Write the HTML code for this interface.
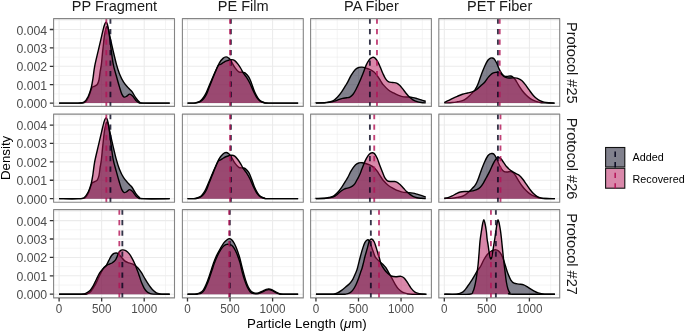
<!DOCTYPE html>
<html><head><meta charset="utf-8"><title>Density plot</title>
<style>html,body{margin:0;padding:0;background:#fff}svg{display:block}</style></head>
<body>
<svg width="685" height="333" viewBox="0 0 685 333" font-family="Liberation Sans, Arial, Helvetica, sans-serif">
<rect width="685" height="333" fill="#fff"/>
<g>
<rect x="53.6" y="18.6" width="120.90" height="87.80" fill="#fff"/>
<path d="M80.38,18.6V106.40M122.92,18.6V106.40M165.47,18.6V106.40M53.6,93.90H174.50M53.6,75.50H174.50M53.6,57.10H174.50M53.6,38.70H174.50M53.6,20.30H174.50" stroke="#ebebeb" stroke-width="0.55" fill="none"/>
<path d="M59.10,18.6V106.40M101.65,18.6V106.40M144.20,18.6V106.40M53.6,103.10H174.50M53.6,84.70H174.50M53.6,66.30H174.50M53.6,47.90H174.50M53.6,29.50H174.50" stroke="#ebebeb" stroke-width="1.05" fill="none"/>
<path d="M59.10,103.10C62.36,103.10 74.32,103.25 78.67,103.10C83.03,102.95 83.54,103.28 85.23,102.18C86.91,101.08 87.71,98.84 88.80,96.48C89.89,94.11 90.87,89.70 91.78,88.01C92.69,86.33 93.34,86.94 94.25,86.36C95.15,85.77 96.43,85.62 97.22,84.52C98.02,83.41 98.52,81.94 99.01,79.73C99.51,77.52 99.81,73.87 100.20,71.27C100.60,68.66 100.96,67.68 101.39,64.09C101.83,60.50 102.34,54.40 102.84,49.74C103.34,45.08 103.86,39.65 104.37,36.12C104.88,32.60 105.45,30.21 105.91,28.58C106.36,26.95 106.67,26.22 107.10,26.37C107.52,26.53 108.00,27.87 108.46,29.50C108.91,31.13 109.08,32.75 109.82,36.12C110.56,39.50 111.79,45.08 112.88,49.74C113.98,54.40 115.28,60.11 116.37,64.09C117.46,68.08 118.23,70.65 119.44,73.66C120.64,76.67 122.10,79.73 123.61,82.12C125.11,84.52 127.05,86.42 128.46,88.01C129.86,89.61 130.83,90.07 132.03,91.69C133.24,93.32 134.48,96.08 135.69,97.76C136.90,99.45 137.99,100.92 139.26,101.81C140.54,102.70 138.27,102.89 143.35,103.10C148.43,103.31 165.33,103.10 169.73,103.10L169.73,103.10L59.10,103.10Z" fill="#03031B" fill-opacity="0.5" stroke="none"/>
<path d="M59.10,103.10C62.36,103.10 74.32,103.25 78.67,103.10C83.03,102.95 83.54,103.28 85.23,102.18C86.91,101.08 87.71,98.84 88.80,96.48C89.89,94.11 90.87,89.70 91.78,88.01C92.69,86.33 93.34,86.94 94.25,86.36C95.15,85.77 96.43,85.62 97.22,84.52C98.02,83.41 98.52,81.94 99.01,79.73C99.51,77.52 99.81,73.87 100.20,71.27C100.60,68.66 100.96,67.68 101.39,64.09C101.83,60.50 102.34,54.40 102.84,49.74C103.34,45.08 103.86,39.65 104.37,36.12C104.88,32.60 105.45,30.21 105.91,28.58C106.36,26.95 106.67,26.22 107.10,26.37C107.52,26.53 108.00,27.87 108.46,29.50C108.91,31.13 109.08,32.75 109.82,36.12C110.56,39.50 111.79,45.08 112.88,49.74C113.98,54.40 115.28,60.11 116.37,64.09C117.46,68.08 118.23,70.65 119.44,73.66C120.64,76.67 122.10,79.73 123.61,82.12C125.11,84.52 127.05,86.42 128.46,88.01C129.86,89.61 130.83,90.07 132.03,91.69C133.24,93.32 134.48,96.08 135.69,97.76C136.90,99.45 137.99,100.92 139.26,101.81C140.54,102.70 138.27,102.89 143.35,103.10C148.43,103.31 165.33,103.10 169.73,103.10" fill="none" stroke="#000" stroke-width="1.4" stroke-linejoin="round"/>
<path d="M59.10,103.10C62.22,103.10 73.67,103.25 77.82,103.10C81.98,102.95 82.30,103.28 84.03,102.18C85.76,101.08 87.01,98.84 88.20,96.48C89.40,94.11 90.39,91.02 91.18,88.01C91.98,85.01 92.39,82.06 92.97,78.44C93.55,74.83 93.79,70.93 94.67,66.30C95.55,61.67 97.08,55.69 98.25,50.66C99.41,45.63 100.66,40.26 101.65,36.12C102.64,31.98 103.47,28.12 104.20,25.82C104.94,23.52 105.48,22.32 106.08,22.32C106.67,22.32 107.21,23.52 107.78,25.82C108.34,28.12 108.91,32.14 109.48,36.12C110.05,40.11 110.56,45.08 111.18,49.74C111.81,54.40 112.36,59.71 113.22,64.09C114.09,68.48 115.34,72.25 116.37,76.05C117.41,79.85 118.53,83.90 119.44,86.91C120.34,89.91 121.02,92.40 121.82,94.08C122.61,95.77 123.38,96.69 124.20,97.03C125.02,97.37 125.85,96.60 126.75,96.11C127.66,95.62 128.67,94.11 129.65,94.08C130.63,94.05 131.62,94.91 132.63,95.92C133.63,96.94 134.68,99.05 135.69,100.16C136.70,101.26 137.53,102.06 138.67,102.55C139.80,103.04 137.32,103.01 142.50,103.10C147.67,103.19 165.19,103.10 169.73,103.10L169.73,103.10L59.10,103.10Z" fill="#B31155" fill-opacity="0.5" stroke="none"/>
<path d="M59.10,103.10C62.22,103.10 73.67,103.25 77.82,103.10C81.98,102.95 82.30,103.28 84.03,102.18C85.76,101.08 87.01,98.84 88.20,96.48C89.40,94.11 90.39,91.02 91.18,88.01C91.98,85.01 92.39,82.06 92.97,78.44C93.55,74.83 93.79,70.93 94.67,66.30C95.55,61.67 97.08,55.69 98.25,50.66C99.41,45.63 100.66,40.26 101.65,36.12C102.64,31.98 103.47,28.12 104.20,25.82C104.94,23.52 105.48,22.32 106.08,22.32C106.67,22.32 107.21,23.52 107.78,25.82C108.34,28.12 108.91,32.14 109.48,36.12C110.05,40.11 110.56,45.08 111.18,49.74C111.81,54.40 112.36,59.71 113.22,64.09C114.09,68.48 115.34,72.25 116.37,76.05C117.41,79.85 118.53,83.90 119.44,86.91C120.34,89.91 121.02,92.40 121.82,94.08C122.61,95.77 123.38,96.69 124.20,97.03C125.02,97.37 125.85,96.60 126.75,96.11C127.66,95.62 128.67,94.11 129.65,94.08C130.63,94.05 131.62,94.91 132.63,95.92C133.63,96.94 134.68,99.05 135.69,100.16C136.70,101.26 137.53,102.06 138.67,102.55C139.80,103.04 137.32,103.01 142.50,103.10C147.67,103.19 165.19,103.10 169.73,103.10" fill="none" stroke="#000" stroke-width="1.4" stroke-linejoin="round"/>
<path d="M110.42,18.50V106.40" stroke="#03031B" stroke-width="1.85" stroke-opacity="0.8" stroke-dasharray="5.3 5.18" fill="none"/>
<path d="M106.33,18.50V106.40" stroke="#B31155" stroke-width="1.85" stroke-opacity="0.8" stroke-dasharray="5.3 5.18" fill="none"/>
<rect x="53.6" y="18.6" width="120.90" height="87.80" fill="none" stroke="#858585" stroke-width="1.1" stroke-linejoin="round"/>
</g>
<g>
<rect x="182.4" y="18.6" width="120.90" height="87.80" fill="#fff"/>
<path d="M208.78,18.6V106.40M251.32,18.6V106.40M293.88,18.6V106.40M182.4,93.90H303.30M182.4,75.50H303.30M182.4,57.10H303.30M182.4,38.70H303.30M182.4,20.30H303.30" stroke="#ebebeb" stroke-width="0.55" fill="none"/>
<path d="M187.50,18.6V106.40M230.05,18.6V106.40M272.60,18.6V106.40M182.4,103.10H303.30M182.4,84.70H303.30M182.4,66.30H303.30M182.4,47.90H303.30M182.4,29.50H303.30" stroke="#ebebeb" stroke-width="1.05" fill="none"/>
<path d="M187.50,103.10C188.35,103.10 191.33,103.13 192.61,103.10C193.88,103.07 194.04,103.16 195.16,102.92C196.28,102.67 198.14,102.27 199.33,101.63C200.52,100.98 201.30,100.25 202.31,99.05C203.31,97.86 204.34,96.41 205.37,94.45C206.41,92.49 207.50,89.64 208.52,87.28C209.54,84.91 210.41,82.83 211.50,80.28C212.59,77.74 213.75,74.92 215.07,72.00C216.39,69.09 218.09,65.07 219.41,62.80C220.73,60.53 221.88,59.37 222.99,58.39C224.09,57.41 225.11,56.98 226.05,56.92C226.99,56.85 227.84,57.47 228.60,58.02C229.37,58.57 229.62,58.66 230.65,60.23C231.67,61.79 233.37,65.47 234.73,67.40C236.09,69.34 237.45,70.99 238.82,71.82C240.18,72.65 241.82,72.16 242.90,72.37C243.98,72.59 244.29,72.31 245.28,73.11C246.28,73.91 247.82,75.47 248.86,77.16C249.89,78.84 250.56,80.84 251.50,83.23C252.43,85.62 253.45,89.12 254.47,91.51C255.49,93.90 256.59,95.99 257.62,97.58C258.66,99.17 259.51,100.22 260.69,101.08C261.86,101.93 263.34,102.39 264.69,102.73C266.03,103.07 263.20,103.04 268.77,103.10C274.34,103.16 293.24,103.10 298.13,103.10L298.13,103.10L187.50,103.10Z" fill="#03031B" fill-opacity="0.5" stroke="none"/>
<path d="M187.50,103.10C188.35,103.10 191.33,103.13 192.61,103.10C193.88,103.07 194.04,103.16 195.16,102.92C196.28,102.67 198.14,102.27 199.33,101.63C200.52,100.98 201.30,100.25 202.31,99.05C203.31,97.86 204.34,96.41 205.37,94.45C206.41,92.49 207.50,89.64 208.52,87.28C209.54,84.91 210.41,82.83 211.50,80.28C212.59,77.74 213.75,74.92 215.07,72.00C216.39,69.09 218.09,65.07 219.41,62.80C220.73,60.53 221.88,59.37 222.99,58.39C224.09,57.41 225.11,56.98 226.05,56.92C226.99,56.85 227.84,57.47 228.60,58.02C229.37,58.57 229.62,58.66 230.65,60.23C231.67,61.79 233.37,65.47 234.73,67.40C236.09,69.34 237.45,70.99 238.82,71.82C240.18,72.65 241.82,72.16 242.90,72.37C243.98,72.59 244.29,72.31 245.28,73.11C246.28,73.91 247.82,75.47 248.86,77.16C249.89,78.84 250.56,80.84 251.50,83.23C252.43,85.62 253.45,89.12 254.47,91.51C255.49,93.90 256.59,95.99 257.62,97.58C258.66,99.17 259.51,100.22 260.69,101.08C261.86,101.93 263.34,102.39 264.69,102.73C266.03,103.07 263.20,103.04 268.77,103.10C274.34,103.16 293.24,103.10 298.13,103.10" fill="none" stroke="#000" stroke-width="1.4" stroke-linejoin="round"/>
<path d="M187.50,103.10C188.56,103.10 192.39,103.13 193.88,103.10C195.37,103.07 195.37,103.16 196.44,102.92C197.50,102.67 199.10,102.27 200.26,101.63C201.43,100.98 202.39,100.25 203.41,99.05C204.43,97.86 205.43,96.41 206.39,94.45C207.36,92.49 208.26,89.64 209.20,87.28C210.14,84.91 210.99,82.83 212.01,80.28C213.03,77.74 214.26,74.49 215.33,72.00C216.39,69.52 217.54,66.64 218.39,65.38C219.24,64.12 219.58,64.95 220.43,64.46C221.28,63.97 222.48,63.02 223.50,62.44C224.52,61.85 225.20,61.42 226.56,60.96C227.92,60.50 230.31,59.74 231.67,59.68C233.03,59.61 233.71,59.89 234.73,60.60C235.75,61.30 236.77,62.59 237.79,63.91C238.82,65.23 239.94,66.97 240.86,68.51C241.78,70.04 242.40,71.67 243.33,73.11C244.25,74.55 245.30,75.47 246.39,77.16C247.48,78.84 248.69,80.84 249.88,83.23C251.07,85.62 252.39,89.12 253.54,91.51C254.69,93.90 255.67,95.99 256.77,97.58C257.88,99.17 258.94,100.22 260.18,101.08C261.41,101.93 262.81,102.39 264.18,102.73C265.54,103.07 262.69,103.04 268.35,103.10C274.00,103.16 293.17,103.10 298.13,103.10L298.13,103.10L187.50,103.10Z" fill="#B31155" fill-opacity="0.5" stroke="none"/>
<path d="M187.50,103.10C188.56,103.10 192.39,103.13 193.88,103.10C195.37,103.07 195.37,103.16 196.44,102.92C197.50,102.67 199.10,102.27 200.26,101.63C201.43,100.98 202.39,100.25 203.41,99.05C204.43,97.86 205.43,96.41 206.39,94.45C207.36,92.49 208.26,89.64 209.20,87.28C210.14,84.91 210.99,82.83 212.01,80.28C213.03,77.74 214.26,74.49 215.33,72.00C216.39,69.52 217.54,66.64 218.39,65.38C219.24,64.12 219.58,64.95 220.43,64.46C221.28,63.97 222.48,63.02 223.50,62.44C224.52,61.85 225.20,61.42 226.56,60.96C227.92,60.50 230.31,59.74 231.67,59.68C233.03,59.61 233.71,59.89 234.73,60.60C235.75,61.30 236.77,62.59 237.79,63.91C238.82,65.23 239.94,66.97 240.86,68.51C241.78,70.04 242.40,71.67 243.33,73.11C244.25,74.55 245.30,75.47 246.39,77.16C247.48,78.84 248.69,80.84 249.88,83.23C251.07,85.62 252.39,89.12 253.54,91.51C254.69,93.90 255.67,95.99 256.77,97.58C257.88,99.17 258.94,100.22 260.18,101.08C261.41,101.93 262.81,102.39 264.18,102.73C265.54,103.07 262.69,103.04 268.35,103.10C274.00,103.16 293.17,103.10 298.13,103.10" fill="none" stroke="#000" stroke-width="1.4" stroke-linejoin="round"/>
<path d="M230.90,18.50V106.40" stroke="#03031B" stroke-width="1.85" stroke-opacity="0.8" stroke-dasharray="5.3 5.18" fill="none"/>
<path d="M230.05,18.50V106.40" stroke="#B31155" stroke-width="1.85" stroke-opacity="0.8" stroke-dasharray="5.3 5.18" fill="none"/>
<rect x="182.4" y="18.6" width="120.90" height="87.80" fill="none" stroke="#858585" stroke-width="1.1" stroke-linejoin="round"/>
</g>
<g>
<rect x="310.6" y="18.6" width="120.80" height="87.80" fill="#fff"/>
<path d="M337.22,18.6V106.40M379.77,18.6V106.40M422.32,18.6V106.40M310.6,93.90H431.40M310.6,75.50H431.40M310.6,57.10H431.40M310.6,38.70H431.40M310.6,20.30H431.40" stroke="#ebebeb" stroke-width="0.55" fill="none"/>
<path d="M315.95,18.6V106.40M358.50,18.6V106.40M401.05,18.6V106.40M310.6,103.10H431.40M310.6,84.70H431.40M310.6,66.30H431.40M310.6,47.90H431.40M310.6,29.50H431.40" stroke="#ebebeb" stroke-width="1.05" fill="none"/>
<path d="M315.95,103.10C315.98,103.07 314.73,102.98 316.12,102.92C317.51,102.85 322.08,102.92 324.29,102.73C326.50,102.55 327.86,102.18 329.40,101.81C330.93,101.44 332.12,101.32 333.48,100.52C334.84,99.73 336.20,98.47 337.57,97.03C338.93,95.59 340.29,93.82 341.65,91.88C343.01,89.93 344.73,86.97 345.74,85.34C346.74,83.72 346.77,83.83 347.69,82.12C348.61,80.42 349.99,77.25 351.27,75.13C352.54,73.02 354.07,70.72 355.35,69.43C356.63,68.14 357.82,67.79 358.93,67.40C360.03,67.02 360.88,67.04 361.99,67.13C363.10,67.22 364.29,67.57 365.56,67.96C366.84,68.34 368.29,68.78 369.65,69.43C371.01,70.07 372.54,70.87 373.73,71.82C374.92,72.77 375.78,73.81 376.80,75.13C377.82,76.45 379.09,78.57 379.86,79.73C380.63,80.90 380.81,81.27 381.39,82.12C381.97,82.98 382.17,83.58 383.35,84.88C384.53,86.19 386.75,88.59 388.46,89.94C390.16,91.29 391.86,92.08 393.56,92.98C395.26,93.88 396.97,94.73 398.67,95.37C400.37,96.02 402.07,96.57 403.77,96.84C405.48,97.12 407.35,96.91 408.88,97.03C410.41,97.15 411.60,97.32 412.96,97.58C414.33,97.84 415.69,98.22 417.05,98.59C418.41,98.96 419.69,99.31 421.13,99.79C422.58,100.26 424.96,101.17 425.73,101.44L425.73,103.10L315.95,103.10Z" fill="#03031B" fill-opacity="0.5" stroke="none"/>
<path d="M315.95,103.10C315.98,103.07 314.73,102.98 316.12,102.92C317.51,102.85 322.08,102.92 324.29,102.73C326.50,102.55 327.86,102.18 329.40,101.81C330.93,101.44 332.12,101.32 333.48,100.52C334.84,99.73 336.20,98.47 337.57,97.03C338.93,95.59 340.29,93.82 341.65,91.88C343.01,89.93 344.73,86.97 345.74,85.34C346.74,83.72 346.77,83.83 347.69,82.12C348.61,80.42 349.99,77.25 351.27,75.13C352.54,73.02 354.07,70.72 355.35,69.43C356.63,68.14 357.82,67.79 358.93,67.40C360.03,67.02 360.88,67.04 361.99,67.13C363.10,67.22 364.29,67.57 365.56,67.96C366.84,68.34 368.29,68.78 369.65,69.43C371.01,70.07 372.54,70.87 373.73,71.82C374.92,72.77 375.78,73.81 376.80,75.13C377.82,76.45 379.09,78.57 379.86,79.73C380.63,80.90 380.81,81.27 381.39,82.12C381.97,82.98 382.17,83.58 383.35,84.88C384.53,86.19 386.75,88.59 388.46,89.94C390.16,91.29 391.86,92.08 393.56,92.98C395.26,93.88 396.97,94.73 398.67,95.37C400.37,96.02 402.07,96.57 403.77,96.84C405.48,97.12 407.35,96.91 408.88,97.03C410.41,97.15 411.60,97.32 412.96,97.58C414.33,97.84 415.69,98.22 417.05,98.59C418.41,98.96 419.69,99.31 421.13,99.79C422.58,100.26 424.96,101.17 425.73,101.44" fill="none" stroke="#000" stroke-width="1.4" stroke-linejoin="round"/>
<path d="M315.95,103.10C317.37,103.07 322.22,103.04 324.46,102.92C326.70,102.79 327.72,102.66 329.40,102.36C331.07,102.07 332.97,101.63 334.50,101.17C336.03,100.71 337.22,100.07 338.59,99.60C339.95,99.14 341.31,98.70 342.67,98.39C344.03,98.08 345.56,97.99 346.76,97.76C347.95,97.54 348.80,97.56 349.82,97.03C350.84,96.49 351.86,95.80 352.88,94.54C353.90,93.29 354.87,91.52 355.95,89.48C357.02,87.44 358.17,84.98 359.35,82.31C360.53,79.64 361.89,76.30 363.01,73.48C364.13,70.65 365.05,67.65 366.07,65.38C367.10,63.11 368.20,61.13 369.14,59.86C370.07,58.59 371.01,58.17 371.69,57.74C372.37,57.31 372.63,57.21 373.22,57.28C373.82,57.36 374.50,57.44 375.26,58.20C376.03,58.97 376.97,60.35 377.82,61.88C378.67,63.42 379.52,65.47 380.37,67.40C381.22,69.34 382.07,71.61 382.92,73.48C383.77,75.35 384.58,77.28 385.48,78.63C386.37,79.98 387.11,80.93 388.28,81.57C389.46,82.22 391.15,82.25 392.54,82.49C393.93,82.74 395.43,82.57 396.62,83.04C397.82,83.52 398.67,84.36 399.69,85.34C400.71,86.33 401.73,87.66 402.75,88.93C403.77,90.20 404.71,91.63 405.82,92.98C406.92,94.33 408.20,95.89 409.39,97.03C410.58,98.16 411.69,99.02 412.96,99.79C414.24,100.55 415.69,101.17 417.05,101.63C418.41,102.09 419.69,102.33 421.13,102.55C422.58,102.76 424.96,102.85 425.73,102.92L425.73,103.10L315.95,103.10Z" fill="#B31155" fill-opacity="0.5" stroke="none"/>
<path d="M315.95,103.10C317.37,103.07 322.22,103.04 324.46,102.92C326.70,102.79 327.72,102.66 329.40,102.36C331.07,102.07 332.97,101.63 334.50,101.17C336.03,100.71 337.22,100.07 338.59,99.60C339.95,99.14 341.31,98.70 342.67,98.39C344.03,98.08 345.56,97.99 346.76,97.76C347.95,97.54 348.80,97.56 349.82,97.03C350.84,96.49 351.86,95.80 352.88,94.54C353.90,93.29 354.87,91.52 355.95,89.48C357.02,87.44 358.17,84.98 359.35,82.31C360.53,79.64 361.89,76.30 363.01,73.48C364.13,70.65 365.05,67.65 366.07,65.38C367.10,63.11 368.20,61.13 369.14,59.86C370.07,58.59 371.01,58.17 371.69,57.74C372.37,57.31 372.63,57.21 373.22,57.28C373.82,57.36 374.50,57.44 375.26,58.20C376.03,58.97 376.97,60.35 377.82,61.88C378.67,63.42 379.52,65.47 380.37,67.40C381.22,69.34 382.07,71.61 382.92,73.48C383.77,75.35 384.58,77.28 385.48,78.63C386.37,79.98 387.11,80.93 388.28,81.57C389.46,82.22 391.15,82.25 392.54,82.49C393.93,82.74 395.43,82.57 396.62,83.04C397.82,83.52 398.67,84.36 399.69,85.34C400.71,86.33 401.73,87.66 402.75,88.93C403.77,90.20 404.71,91.63 405.82,92.98C406.92,94.33 408.20,95.89 409.39,97.03C410.58,98.16 411.69,99.02 412.96,99.79C414.24,100.55 415.69,101.17 417.05,101.63C418.41,102.09 419.69,102.33 421.13,102.55C422.58,102.76 424.96,102.85 425.73,102.92" fill="none" stroke="#000" stroke-width="1.4" stroke-linejoin="round"/>
<path d="M369.90,18.50V106.40" stroke="#03031B" stroke-width="1.85" stroke-opacity="0.8" stroke-dasharray="5.3 5.18" fill="none"/>
<path d="M376.97,18.50V106.40" stroke="#B31155" stroke-width="1.85" stroke-opacity="0.8" stroke-dasharray="5.3 5.18" fill="none"/>
<rect x="310.6" y="18.6" width="120.80" height="87.80" fill="none" stroke="#858585" stroke-width="1.1" stroke-linejoin="round"/>
</g>
<g>
<rect x="438.8" y="18.6" width="120.90" height="87.80" fill="#fff"/>
<path d="M465.57,18.6V106.40M508.12,18.6V106.40M550.67,18.6V106.40M438.8,93.90H559.70M438.8,75.50H559.70M438.8,57.10H559.70M438.8,38.70H559.70M438.8,20.30H559.70" stroke="#ebebeb" stroke-width="0.55" fill="none"/>
<path d="M444.30,18.6V106.40M486.85,18.6V106.40M529.40,18.6V106.40M438.8,103.10H559.70M438.8,84.70H559.70M438.8,66.30H559.70M438.8,47.90H559.70M438.8,29.50H559.70" stroke="#ebebeb" stroke-width="1.05" fill="none"/>
<path d="M444.30,102.92C445.62,102.85 450.04,102.73 452.21,102.55C454.38,102.36 455.62,102.12 457.32,101.81C459.02,101.51 460.89,101.28 462.43,100.71C463.96,100.14 465.32,99.22 466.51,98.39C467.70,97.56 468.55,96.73 469.57,95.74C470.60,94.75 471.79,93.32 472.64,92.43C473.49,91.54 474.00,91.32 474.68,90.40C475.36,89.48 476.04,88.32 476.72,86.91C477.40,85.50 477.93,84.18 478.77,81.94C479.60,79.70 480.74,76.14 481.74,73.48C482.75,70.81 483.79,68.14 484.81,65.93C485.83,63.72 486.94,61.52 487.87,60.23C488.81,58.94 489.74,58.59 490.42,58.20C491.11,57.82 491.36,57.84 491.96,57.93C492.55,58.02 493.23,57.94 494.00,58.76C494.76,59.57 495.70,61.12 496.55,62.80C497.40,64.49 498.25,67.10 499.10,68.88C499.96,70.65 500.81,72.28 501.66,73.48C502.51,74.67 503.27,75.56 504.21,76.05C505.15,76.54 506.25,76.44 507.27,76.42C508.30,76.40 509.40,75.87 510.34,75.96C511.27,76.05 512.05,76.34 512.89,76.97C513.73,77.60 514.44,78.41 515.36,79.73C516.28,81.05 517.23,83.01 518.42,84.88C519.61,86.75 521.15,89.18 522.51,90.96C523.87,92.73 525.23,94.24 526.59,95.56C527.95,96.87 529.31,97.98 530.68,98.87C532.04,99.76 533.40,100.34 534.76,100.89C536.12,101.44 537.31,101.84 538.85,102.18C540.38,102.52 541.27,102.76 543.95,102.92C546.63,103.07 553.10,103.07 554.93,103.10L554.93,103.10L444.30,103.10Z" fill="#03031B" fill-opacity="0.5" stroke="none"/>
<path d="M444.30,102.92C445.62,102.85 450.04,102.73 452.21,102.55C454.38,102.36 455.62,102.12 457.32,101.81C459.02,101.51 460.89,101.28 462.43,100.71C463.96,100.14 465.32,99.22 466.51,98.39C467.70,97.56 468.55,96.73 469.57,95.74C470.60,94.75 471.79,93.32 472.64,92.43C473.49,91.54 474.00,91.32 474.68,90.40C475.36,89.48 476.04,88.32 476.72,86.91C477.40,85.50 477.93,84.18 478.77,81.94C479.60,79.70 480.74,76.14 481.74,73.48C482.75,70.81 483.79,68.14 484.81,65.93C485.83,63.72 486.94,61.52 487.87,60.23C488.81,58.94 489.74,58.59 490.42,58.20C491.11,57.82 491.36,57.84 491.96,57.93C492.55,58.02 493.23,57.94 494.00,58.76C494.76,59.57 495.70,61.12 496.55,62.80C497.40,64.49 498.25,67.10 499.10,68.88C499.96,70.65 500.81,72.28 501.66,73.48C502.51,74.67 503.27,75.56 504.21,76.05C505.15,76.54 506.25,76.44 507.27,76.42C508.30,76.40 509.40,75.87 510.34,75.96C511.27,76.05 512.05,76.34 512.89,76.97C513.73,77.60 514.44,78.41 515.36,79.73C516.28,81.05 517.23,83.01 518.42,84.88C519.61,86.75 521.15,89.18 522.51,90.96C523.87,92.73 525.23,94.24 526.59,95.56C527.95,96.87 529.31,97.98 530.68,98.87C532.04,99.76 533.40,100.34 534.76,100.89C536.12,101.44 537.31,101.84 538.85,102.18C540.38,102.52 541.27,102.76 543.95,102.92C546.63,103.07 553.10,103.07 554.93,103.10" fill="none" stroke="#000" stroke-width="1.4" stroke-linejoin="round"/>
<path d="M444.30,102.55C444.94,102.24 446.81,101.37 448.13,100.71C449.45,100.05 450.68,99.33 452.21,98.59C453.75,97.86 455.62,97.01 457.32,96.29C459.02,95.57 460.72,94.82 462.43,94.27C464.13,93.72 465.83,93.41 467.53,92.98C469.23,92.55 471.11,92.27 472.64,91.69C474.17,91.11 475.36,90.47 476.72,89.48C478.08,88.50 479.45,87.06 480.81,85.80C482.17,84.55 483.63,83.38 484.89,81.94C486.16,80.50 487.20,78.54 488.38,77.16C489.56,75.78 490.76,74.46 491.96,73.66C493.15,72.86 494.51,72.59 495.53,72.37C496.55,72.16 497.15,72.10 498.08,72.37C499.02,72.65 500.13,73.32 501.15,74.03C502.17,74.73 503.19,75.96 504.21,76.60C505.23,77.25 506.17,77.66 507.27,77.89C508.38,78.12 509.57,77.98 510.85,77.98C512.12,77.98 513.67,77.78 514.93,77.89C516.20,78.00 517.24,78.15 518.42,78.63C519.60,79.10 520.80,79.70 522.00,80.74C523.19,81.79 524.38,83.35 525.57,84.88C526.76,86.42 527.95,88.30 529.14,89.94C530.34,91.58 531.53,93.33 532.72,94.73C533.91,96.12 535.10,97.32 536.29,98.32C537.48,99.31 538.59,100.06 539.87,100.71C541.14,101.35 542.42,101.83 543.95,102.18C545.48,102.53 547.37,102.67 549.06,102.82C550.75,102.98 553.24,103.05 554.08,103.10L554.08,103.10L444.30,103.10Z" fill="#B31155" fill-opacity="0.5" stroke="none"/>
<path d="M444.30,102.55C444.94,102.24 446.81,101.37 448.13,100.71C449.45,100.05 450.68,99.33 452.21,98.59C453.75,97.86 455.62,97.01 457.32,96.29C459.02,95.57 460.72,94.82 462.43,94.27C464.13,93.72 465.83,93.41 467.53,92.98C469.23,92.55 471.11,92.27 472.64,91.69C474.17,91.11 475.36,90.47 476.72,89.48C478.08,88.50 479.45,87.06 480.81,85.80C482.17,84.55 483.63,83.38 484.89,81.94C486.16,80.50 487.20,78.54 488.38,77.16C489.56,75.78 490.76,74.46 491.96,73.66C493.15,72.86 494.51,72.59 495.53,72.37C496.55,72.16 497.15,72.10 498.08,72.37C499.02,72.65 500.13,73.32 501.15,74.03C502.17,74.73 503.19,75.96 504.21,76.60C505.23,77.25 506.17,77.66 507.27,77.89C508.38,78.12 509.57,77.98 510.85,77.98C512.12,77.98 513.67,77.78 514.93,77.89C516.20,78.00 517.24,78.15 518.42,78.63C519.60,79.10 520.80,79.70 522.00,80.74C523.19,81.79 524.38,83.35 525.57,84.88C526.76,86.42 527.95,88.30 529.14,89.94C530.34,91.58 531.53,93.33 532.72,94.73C533.91,96.12 535.10,97.32 536.29,98.32C537.48,99.31 538.59,100.06 539.87,100.71C541.14,101.35 542.42,101.83 543.95,102.18C545.48,102.53 547.37,102.67 549.06,102.82C550.75,102.98 553.24,103.05 554.08,103.10" fill="none" stroke="#000" stroke-width="1.4" stroke-linejoin="round"/>
<path d="M497.91,18.50V106.40" stroke="#03031B" stroke-width="1.85" stroke-opacity="0.8" stroke-dasharray="5.3 5.18" fill="none"/>
<path d="M499.70,18.50V106.40" stroke="#B31155" stroke-width="1.85" stroke-opacity="0.8" stroke-dasharray="5.3 5.18" fill="none"/>
<rect x="438.8" y="18.6" width="120.90" height="87.80" fill="none" stroke="#858585" stroke-width="1.1" stroke-linejoin="round"/>
</g>
<g>
<rect x="53.6" y="114.1" width="120.90" height="88.20" fill="#fff"/>
<path d="M80.38,114.1V202.30M122.92,114.1V202.30M165.47,114.1V202.30M53.6,189.45H174.50M53.6,171.05H174.50M53.6,152.65H174.50M53.6,134.25H174.50M53.6,115.85H174.50" stroke="#ebebeb" stroke-width="0.55" fill="none"/>
<path d="M59.10,114.1V202.30M101.65,114.1V202.30M144.20,114.1V202.30M53.6,198.65H174.50M53.6,180.25H174.50M53.6,161.85H174.50M53.6,143.45H174.50M53.6,125.05H174.50" stroke="#ebebeb" stroke-width="1.05" fill="none"/>
<path d="M59.10,198.65C62.36,198.65 74.32,198.80 78.67,198.65C83.03,198.50 83.54,198.83 85.23,197.73C86.91,196.63 87.71,194.39 88.80,192.03C89.89,189.66 90.87,185.25 91.78,183.56C92.69,181.88 93.34,182.49 94.25,181.91C95.15,181.32 96.43,181.17 97.22,180.07C98.02,178.96 98.52,177.49 99.01,175.28C99.51,173.07 99.81,169.42 100.20,166.82C100.60,164.21 100.96,163.23 101.39,159.64C101.83,156.05 102.34,149.95 102.84,145.29C103.34,140.63 103.86,135.20 104.37,131.67C104.88,128.15 105.45,125.76 105.91,124.13C106.36,122.50 106.67,121.77 107.10,121.92C107.52,122.08 108.00,123.42 108.46,125.05C108.91,126.68 109.08,128.30 109.82,131.67C110.56,135.05 111.79,140.63 112.88,145.29C113.98,149.95 115.28,155.66 116.37,159.64C117.46,163.63 118.23,166.20 119.44,169.21C120.64,172.22 122.10,175.28 123.61,177.67C125.11,180.07 127.05,181.97 128.46,183.56C129.86,185.16 130.83,185.62 132.03,187.24C133.24,188.87 134.48,191.63 135.69,193.31C136.90,195.00 137.99,196.47 139.26,197.36C140.54,198.25 138.27,198.44 143.35,198.65C148.43,198.86 165.33,198.65 169.73,198.65L169.73,198.65L59.10,198.65Z" fill="#03031B" fill-opacity="0.5" stroke="none"/>
<path d="M59.10,198.65C62.36,198.65 74.32,198.80 78.67,198.65C83.03,198.50 83.54,198.83 85.23,197.73C86.91,196.63 87.71,194.39 88.80,192.03C89.89,189.66 90.87,185.25 91.78,183.56C92.69,181.88 93.34,182.49 94.25,181.91C95.15,181.32 96.43,181.17 97.22,180.07C98.02,178.96 98.52,177.49 99.01,175.28C99.51,173.07 99.81,169.42 100.20,166.82C100.60,164.21 100.96,163.23 101.39,159.64C101.83,156.05 102.34,149.95 102.84,145.29C103.34,140.63 103.86,135.20 104.37,131.67C104.88,128.15 105.45,125.76 105.91,124.13C106.36,122.50 106.67,121.77 107.10,121.92C107.52,122.08 108.00,123.42 108.46,125.05C108.91,126.68 109.08,128.30 109.82,131.67C110.56,135.05 111.79,140.63 112.88,145.29C113.98,149.95 115.28,155.66 116.37,159.64C117.46,163.63 118.23,166.20 119.44,169.21C120.64,172.22 122.10,175.28 123.61,177.67C125.11,180.07 127.05,181.97 128.46,183.56C129.86,185.16 130.83,185.62 132.03,187.24C133.24,188.87 134.48,191.63 135.69,193.31C136.90,195.00 137.99,196.47 139.26,197.36C140.54,198.25 138.27,198.44 143.35,198.65C148.43,198.86 165.33,198.65 169.73,198.65" fill="none" stroke="#000" stroke-width="1.4" stroke-linejoin="round"/>
<path d="M59.10,198.65C62.22,198.65 73.67,198.80 77.82,198.65C81.98,198.50 82.30,198.83 84.03,197.73C85.76,196.63 87.01,194.39 88.20,192.03C89.40,189.66 90.39,186.57 91.18,183.56C91.98,180.56 92.39,177.61 92.97,173.99C93.55,170.38 93.79,166.48 94.67,161.85C95.55,157.22 97.08,151.24 98.25,146.21C99.41,141.18 100.66,135.81 101.65,131.67C102.64,127.53 103.47,123.67 104.20,121.37C104.94,119.07 105.48,117.87 106.08,117.87C106.67,117.87 107.21,119.07 107.78,121.37C108.34,123.67 108.91,127.69 109.48,131.67C110.05,135.66 110.56,140.63 111.18,145.29C111.81,149.95 112.36,155.26 113.22,159.64C114.09,164.03 115.34,167.80 116.37,171.60C117.41,175.40 118.53,179.45 119.44,182.46C120.34,185.46 121.02,187.95 121.82,189.63C122.61,191.32 123.38,192.24 124.20,192.58C125.02,192.92 125.85,192.15 126.75,191.66C127.66,191.17 128.67,189.66 129.65,189.63C130.63,189.60 131.62,190.46 132.63,191.47C133.63,192.49 134.68,194.60 135.69,195.71C136.70,196.81 137.53,197.61 138.67,198.10C139.80,198.59 137.32,198.56 142.50,198.65C147.67,198.74 165.19,198.65 169.73,198.65L169.73,198.65L59.10,198.65Z" fill="#B31155" fill-opacity="0.5" stroke="none"/>
<path d="M59.10,198.65C62.22,198.65 73.67,198.80 77.82,198.65C81.98,198.50 82.30,198.83 84.03,197.73C85.76,196.63 87.01,194.39 88.20,192.03C89.40,189.66 90.39,186.57 91.18,183.56C91.98,180.56 92.39,177.61 92.97,173.99C93.55,170.38 93.79,166.48 94.67,161.85C95.55,157.22 97.08,151.24 98.25,146.21C99.41,141.18 100.66,135.81 101.65,131.67C102.64,127.53 103.47,123.67 104.20,121.37C104.94,119.07 105.48,117.87 106.08,117.87C106.67,117.87 107.21,119.07 107.78,121.37C108.34,123.67 108.91,127.69 109.48,131.67C110.05,135.66 110.56,140.63 111.18,145.29C111.81,149.95 112.36,155.26 113.22,159.64C114.09,164.03 115.34,167.80 116.37,171.60C117.41,175.40 118.53,179.45 119.44,182.46C120.34,185.46 121.02,187.95 121.82,189.63C122.61,191.32 123.38,192.24 124.20,192.58C125.02,192.92 125.85,192.15 126.75,191.66C127.66,191.17 128.67,189.66 129.65,189.63C130.63,189.60 131.62,190.46 132.63,191.47C133.63,192.49 134.68,194.60 135.69,195.71C136.70,196.81 137.53,197.61 138.67,198.10C139.80,198.59 137.32,198.56 142.50,198.65C147.67,198.74 165.19,198.65 169.73,198.65" fill="none" stroke="#000" stroke-width="1.4" stroke-linejoin="round"/>
<path d="M110.42,114.00V202.30" stroke="#03031B" stroke-width="1.85" stroke-opacity="0.8" stroke-dasharray="5.3 5.18" fill="none"/>
<path d="M106.33,114.00V202.30" stroke="#B31155" stroke-width="1.85" stroke-opacity="0.8" stroke-dasharray="5.3 5.18" fill="none"/>
<rect x="53.6" y="114.1" width="120.90" height="88.20" fill="none" stroke="#858585" stroke-width="1.1" stroke-linejoin="round"/>
</g>
<g>
<rect x="182.4" y="114.1" width="120.90" height="88.20" fill="#fff"/>
<path d="M208.78,114.1V202.30M251.32,114.1V202.30M293.88,114.1V202.30M182.4,189.45H303.30M182.4,171.05H303.30M182.4,152.65H303.30M182.4,134.25H303.30M182.4,115.85H303.30" stroke="#ebebeb" stroke-width="0.55" fill="none"/>
<path d="M187.50,114.1V202.30M230.05,114.1V202.30M272.60,114.1V202.30M182.4,198.65H303.30M182.4,180.25H303.30M182.4,161.85H303.30M182.4,143.45H303.30M182.4,125.05H303.30" stroke="#ebebeb" stroke-width="1.05" fill="none"/>
<path d="M187.50,198.65C188.35,198.65 191.33,198.68 192.61,198.65C193.88,198.62 194.04,198.71 195.16,198.47C196.28,198.22 198.14,197.82 199.33,197.18C200.52,196.53 201.30,195.80 202.31,194.60C203.31,193.41 204.34,191.96 205.37,190.00C206.41,188.04 207.50,185.19 208.52,182.83C209.54,180.46 210.41,178.38 211.50,175.83C212.59,173.29 213.75,170.47 215.07,167.55C216.39,164.64 218.09,160.62 219.41,158.35C220.73,156.08 221.88,154.92 222.99,153.94C224.09,152.96 225.11,152.53 226.05,152.47C226.99,152.40 227.84,153.02 228.60,153.57C229.37,154.12 229.62,154.21 230.65,155.78C231.67,157.34 233.37,161.02 234.73,162.95C236.09,164.89 237.45,166.54 238.82,167.37C240.18,168.20 241.82,167.71 242.90,167.92C243.98,168.14 244.29,167.86 245.28,168.66C246.28,169.46 247.82,171.02 248.86,172.71C249.89,174.39 250.56,176.39 251.50,178.78C252.43,181.17 253.45,184.67 254.47,187.06C255.49,189.45 256.59,191.54 257.62,193.13C258.66,194.72 259.51,195.77 260.69,196.63C261.86,197.48 263.34,197.94 264.69,198.28C266.03,198.62 263.20,198.59 268.77,198.65C274.34,198.71 293.24,198.65 298.13,198.65L298.13,198.65L187.50,198.65Z" fill="#03031B" fill-opacity="0.5" stroke="none"/>
<path d="M187.50,198.65C188.35,198.65 191.33,198.68 192.61,198.65C193.88,198.62 194.04,198.71 195.16,198.47C196.28,198.22 198.14,197.82 199.33,197.18C200.52,196.53 201.30,195.80 202.31,194.60C203.31,193.41 204.34,191.96 205.37,190.00C206.41,188.04 207.50,185.19 208.52,182.83C209.54,180.46 210.41,178.38 211.50,175.83C212.59,173.29 213.75,170.47 215.07,167.55C216.39,164.64 218.09,160.62 219.41,158.35C220.73,156.08 221.88,154.92 222.99,153.94C224.09,152.96 225.11,152.53 226.05,152.47C226.99,152.40 227.84,153.02 228.60,153.57C229.37,154.12 229.62,154.21 230.65,155.78C231.67,157.34 233.37,161.02 234.73,162.95C236.09,164.89 237.45,166.54 238.82,167.37C240.18,168.20 241.82,167.71 242.90,167.92C243.98,168.14 244.29,167.86 245.28,168.66C246.28,169.46 247.82,171.02 248.86,172.71C249.89,174.39 250.56,176.39 251.50,178.78C252.43,181.17 253.45,184.67 254.47,187.06C255.49,189.45 256.59,191.54 257.62,193.13C258.66,194.72 259.51,195.77 260.69,196.63C261.86,197.48 263.34,197.94 264.69,198.28C266.03,198.62 263.20,198.59 268.77,198.65C274.34,198.71 293.24,198.65 298.13,198.65" fill="none" stroke="#000" stroke-width="1.4" stroke-linejoin="round"/>
<path d="M187.50,198.65C188.56,198.65 192.39,198.68 193.88,198.65C195.37,198.62 195.37,198.71 196.44,198.47C197.50,198.22 199.10,197.82 200.26,197.18C201.43,196.53 202.39,195.80 203.41,194.60C204.43,193.41 205.43,191.96 206.39,190.00C207.36,188.04 208.26,185.19 209.20,182.83C210.14,180.46 210.99,178.38 212.01,175.83C213.03,173.29 214.26,170.04 215.33,167.55C216.39,165.07 217.54,162.19 218.39,160.93C219.24,159.67 219.58,160.50 220.43,160.01C221.28,159.52 222.48,158.57 223.50,157.99C224.52,157.40 225.20,156.97 226.56,156.51C227.92,156.05 230.31,155.29 231.67,155.23C233.03,155.16 233.71,155.44 234.73,156.15C235.75,156.85 236.77,158.14 237.79,159.46C238.82,160.78 239.94,162.52 240.86,164.06C241.78,165.59 242.40,167.22 243.33,168.66C244.25,170.10 245.30,171.02 246.39,172.71C247.48,174.39 248.69,176.39 249.88,178.78C251.07,181.17 252.39,184.67 253.54,187.06C254.69,189.45 255.67,191.54 256.77,193.13C257.88,194.72 258.94,195.77 260.18,196.63C261.41,197.48 262.81,197.94 264.18,198.28C265.54,198.62 262.69,198.59 268.35,198.65C274.00,198.71 293.17,198.65 298.13,198.65L298.13,198.65L187.50,198.65Z" fill="#B31155" fill-opacity="0.5" stroke="none"/>
<path d="M187.50,198.65C188.56,198.65 192.39,198.68 193.88,198.65C195.37,198.62 195.37,198.71 196.44,198.47C197.50,198.22 199.10,197.82 200.26,197.18C201.43,196.53 202.39,195.80 203.41,194.60C204.43,193.41 205.43,191.96 206.39,190.00C207.36,188.04 208.26,185.19 209.20,182.83C210.14,180.46 210.99,178.38 212.01,175.83C213.03,173.29 214.26,170.04 215.33,167.55C216.39,165.07 217.54,162.19 218.39,160.93C219.24,159.67 219.58,160.50 220.43,160.01C221.28,159.52 222.48,158.57 223.50,157.99C224.52,157.40 225.20,156.97 226.56,156.51C227.92,156.05 230.31,155.29 231.67,155.23C233.03,155.16 233.71,155.44 234.73,156.15C235.75,156.85 236.77,158.14 237.79,159.46C238.82,160.78 239.94,162.52 240.86,164.06C241.78,165.59 242.40,167.22 243.33,168.66C244.25,170.10 245.30,171.02 246.39,172.71C247.48,174.39 248.69,176.39 249.88,178.78C251.07,181.17 252.39,184.67 253.54,187.06C254.69,189.45 255.67,191.54 256.77,193.13C257.88,194.72 258.94,195.77 260.18,196.63C261.41,197.48 262.81,197.94 264.18,198.28C265.54,198.62 262.69,198.59 268.35,198.65C274.00,198.71 293.17,198.65 298.13,198.65" fill="none" stroke="#000" stroke-width="1.4" stroke-linejoin="round"/>
<path d="M230.90,114.00V202.30" stroke="#03031B" stroke-width="1.85" stroke-opacity="0.8" stroke-dasharray="5.3 5.18" fill="none"/>
<path d="M230.05,114.00V202.30" stroke="#B31155" stroke-width="1.85" stroke-opacity="0.8" stroke-dasharray="5.3 5.18" fill="none"/>
<rect x="182.4" y="114.1" width="120.90" height="88.20" fill="none" stroke="#858585" stroke-width="1.1" stroke-linejoin="round"/>
</g>
<g>
<rect x="310.6" y="114.1" width="120.80" height="88.20" fill="#fff"/>
<path d="M337.22,114.1V202.30M379.77,114.1V202.30M422.32,114.1V202.30M310.6,189.45H431.40M310.6,171.05H431.40M310.6,152.65H431.40M310.6,134.25H431.40M310.6,115.85H431.40" stroke="#ebebeb" stroke-width="0.55" fill="none"/>
<path d="M315.95,114.1V202.30M358.50,114.1V202.30M401.05,114.1V202.30M310.6,198.65H431.40M310.6,180.25H431.40M310.6,161.85H431.40M310.6,143.45H431.40M310.6,125.05H431.40" stroke="#ebebeb" stroke-width="1.05" fill="none"/>
<path d="M315.95,198.65C315.98,198.62 314.73,198.53 316.12,198.47C317.51,198.40 322.08,198.47 324.29,198.28C326.50,198.10 327.86,197.73 329.40,197.36C330.93,196.99 332.12,196.87 333.48,196.07C334.84,195.28 336.20,194.02 337.57,192.58C338.93,191.14 340.29,189.37 341.65,187.43C343.01,185.48 344.73,182.52 345.74,180.89C346.74,179.27 346.77,179.38 347.69,177.67C348.61,175.97 349.99,172.80 351.27,170.68C352.54,168.57 354.07,166.27 355.35,164.98C356.63,163.69 357.82,163.34 358.93,162.95C360.03,162.57 360.88,162.59 361.99,162.68C363.10,162.77 364.29,163.12 365.56,163.51C366.84,163.89 368.29,164.33 369.65,164.98C371.01,165.62 372.54,166.42 373.73,167.37C374.92,168.32 375.78,169.36 376.80,170.68C377.82,172.00 379.09,174.12 379.86,175.28C380.63,176.45 380.81,176.82 381.39,177.67C381.97,178.53 382.17,179.13 383.35,180.43C384.53,181.74 386.75,184.14 388.46,185.49C390.16,186.84 391.86,187.63 393.56,188.53C395.26,189.43 396.97,190.28 398.67,190.92C400.37,191.57 402.07,192.12 403.77,192.39C405.48,192.67 407.35,192.46 408.88,192.58C410.41,192.70 411.60,192.87 412.96,193.13C414.33,193.39 415.69,193.77 417.05,194.14C418.41,194.51 419.69,194.86 421.13,195.34C422.58,195.81 424.96,196.72 425.73,196.99L425.73,198.65L315.95,198.65Z" fill="#03031B" fill-opacity="0.5" stroke="none"/>
<path d="M315.95,198.65C315.98,198.62 314.73,198.53 316.12,198.47C317.51,198.40 322.08,198.47 324.29,198.28C326.50,198.10 327.86,197.73 329.40,197.36C330.93,196.99 332.12,196.87 333.48,196.07C334.84,195.28 336.20,194.02 337.57,192.58C338.93,191.14 340.29,189.37 341.65,187.43C343.01,185.48 344.73,182.52 345.74,180.89C346.74,179.27 346.77,179.38 347.69,177.67C348.61,175.97 349.99,172.80 351.27,170.68C352.54,168.57 354.07,166.27 355.35,164.98C356.63,163.69 357.82,163.34 358.93,162.95C360.03,162.57 360.88,162.59 361.99,162.68C363.10,162.77 364.29,163.12 365.56,163.51C366.84,163.89 368.29,164.33 369.65,164.98C371.01,165.62 372.54,166.42 373.73,167.37C374.92,168.32 375.78,169.36 376.80,170.68C377.82,172.00 379.09,174.12 379.86,175.28C380.63,176.45 380.81,176.82 381.39,177.67C381.97,178.53 382.17,179.13 383.35,180.43C384.53,181.74 386.75,184.14 388.46,185.49C390.16,186.84 391.86,187.63 393.56,188.53C395.26,189.43 396.97,190.28 398.67,190.92C400.37,191.57 402.07,192.12 403.77,192.39C405.48,192.67 407.35,192.46 408.88,192.58C410.41,192.70 411.60,192.87 412.96,193.13C414.33,193.39 415.69,193.77 417.05,194.14C418.41,194.51 419.69,194.86 421.13,195.34C422.58,195.81 424.96,196.72 425.73,196.99" fill="none" stroke="#000" stroke-width="1.4" stroke-linejoin="round"/>
<path d="M315.95,198.65C317.37,198.62 322.22,198.59 324.46,198.47C326.70,198.34 327.89,198.19 329.40,197.91C330.90,197.64 332.29,197.30 333.48,196.81C334.67,196.32 335.52,195.74 336.54,194.97C337.57,194.20 338.59,193.04 339.61,192.21C340.63,191.38 341.65,190.62 342.67,190.00C343.69,189.39 344.63,188.93 345.74,188.53C346.84,188.13 348.20,188.01 349.31,187.61C350.42,187.21 351.44,186.81 352.37,186.14C353.31,185.46 354.07,184.76 354.93,183.56C355.78,182.37 356.73,180.34 357.48,178.96C358.23,177.58 358.68,176.97 359.44,175.28C360.19,173.60 361.05,171.20 361.99,168.84C362.93,166.48 364.03,163.32 365.05,161.11C366.07,158.91 367.18,156.91 368.12,155.59C369.05,154.28 369.93,153.68 370.67,153.20C371.41,152.73 371.86,152.62 372.54,152.74C373.22,152.86 373.96,152.97 374.75,153.94C375.55,154.90 376.46,156.61 377.31,158.54C378.16,160.47 379.01,163.29 379.86,165.53C380.71,167.77 381.58,169.90 382.41,171.97C383.25,174.04 384.04,176.48 384.88,177.95C385.72,179.42 386.50,180.20 387.43,180.80C388.37,181.40 389.31,181.42 390.50,181.54C391.69,181.66 393.39,181.37 394.58,181.54C395.77,181.71 396.62,181.94 397.65,182.55C398.67,183.16 399.69,184.22 400.71,185.22C401.73,186.21 402.75,187.44 403.77,188.53C404.79,189.62 405.82,190.78 406.84,191.75C407.86,192.72 408.88,193.56 409.90,194.33C410.92,195.09 411.77,195.78 412.96,196.35C414.16,196.92 415.69,197.41 417.05,197.73C418.41,198.05 419.69,198.14 421.13,198.28C422.58,198.42 424.96,198.51 425.73,198.56L425.73,198.65L315.95,198.65Z" fill="#B31155" fill-opacity="0.5" stroke="none"/>
<path d="M315.95,198.65C317.37,198.62 322.22,198.59 324.46,198.47C326.70,198.34 327.89,198.19 329.40,197.91C330.90,197.64 332.29,197.30 333.48,196.81C334.67,196.32 335.52,195.74 336.54,194.97C337.57,194.20 338.59,193.04 339.61,192.21C340.63,191.38 341.65,190.62 342.67,190.00C343.69,189.39 344.63,188.93 345.74,188.53C346.84,188.13 348.20,188.01 349.31,187.61C350.42,187.21 351.44,186.81 352.37,186.14C353.31,185.46 354.07,184.76 354.93,183.56C355.78,182.37 356.73,180.34 357.48,178.96C358.23,177.58 358.68,176.97 359.44,175.28C360.19,173.60 361.05,171.20 361.99,168.84C362.93,166.48 364.03,163.32 365.05,161.11C366.07,158.91 367.18,156.91 368.12,155.59C369.05,154.28 369.93,153.68 370.67,153.20C371.41,152.73 371.86,152.62 372.54,152.74C373.22,152.86 373.96,152.97 374.75,153.94C375.55,154.90 376.46,156.61 377.31,158.54C378.16,160.47 379.01,163.29 379.86,165.53C380.71,167.77 381.58,169.90 382.41,171.97C383.25,174.04 384.04,176.48 384.88,177.95C385.72,179.42 386.50,180.20 387.43,180.80C388.37,181.40 389.31,181.42 390.50,181.54C391.69,181.66 393.39,181.37 394.58,181.54C395.77,181.71 396.62,181.94 397.65,182.55C398.67,183.16 399.69,184.22 400.71,185.22C401.73,186.21 402.75,187.44 403.77,188.53C404.79,189.62 405.82,190.78 406.84,191.75C407.86,192.72 408.88,193.56 409.90,194.33C410.92,195.09 411.77,195.78 412.96,196.35C414.16,196.92 415.69,197.41 417.05,197.73C418.41,198.05 419.69,198.14 421.13,198.28C422.58,198.42 424.96,198.51 425.73,198.56" fill="none" stroke="#000" stroke-width="1.4" stroke-linejoin="round"/>
<path d="M369.90,114.00V202.30" stroke="#03031B" stroke-width="1.85" stroke-opacity="0.8" stroke-dasharray="5.3 5.18" fill="none"/>
<path d="M374.24,114.00V202.30" stroke="#B31155" stroke-width="1.85" stroke-opacity="0.8" stroke-dasharray="5.3 5.18" fill="none"/>
<rect x="310.6" y="114.1" width="120.80" height="88.20" fill="none" stroke="#858585" stroke-width="1.1" stroke-linejoin="round"/>
</g>
<g>
<rect x="438.8" y="114.1" width="120.90" height="88.20" fill="#fff"/>
<path d="M465.57,114.1V202.30M508.12,114.1V202.30M550.67,114.1V202.30M438.8,189.45H559.70M438.8,171.05H559.70M438.8,152.65H559.70M438.8,134.25H559.70M438.8,115.85H559.70" stroke="#ebebeb" stroke-width="0.55" fill="none"/>
<path d="M444.30,114.1V202.30M486.85,114.1V202.30M529.40,114.1V202.30M438.8,198.65H559.70M438.8,180.25H559.70M438.8,161.85H559.70M438.8,143.45H559.70M438.8,125.05H559.70" stroke="#ebebeb" stroke-width="1.05" fill="none"/>
<path d="M444.30,198.47C445.62,198.40 450.04,198.28 452.21,198.10C454.38,197.91 455.62,197.67 457.32,197.36C459.02,197.06 460.89,196.83 462.43,196.26C463.96,195.69 465.32,194.77 466.51,193.94C467.70,193.11 468.55,192.28 469.57,191.29C470.60,190.30 471.79,188.87 472.64,187.98C473.49,187.09 474.00,186.87 474.68,185.95C475.36,185.03 476.04,183.87 476.72,182.46C477.40,181.05 477.93,179.73 478.77,177.49C479.60,175.25 480.74,171.69 481.74,169.03C482.75,166.36 483.79,163.69 484.81,161.48C485.83,159.27 486.94,157.07 487.87,155.78C488.81,154.49 489.74,154.14 490.42,153.75C491.11,153.37 491.36,153.39 491.96,153.48C492.55,153.57 493.23,153.49 494.00,154.31C494.76,155.12 495.70,156.67 496.55,158.35C497.40,160.04 498.25,162.65 499.10,164.43C499.96,166.20 500.81,167.83 501.66,169.03C502.51,170.22 503.27,171.11 504.21,171.60C505.15,172.09 506.25,171.99 507.27,171.97C508.30,171.95 509.40,171.42 510.34,171.51C511.27,171.60 512.05,171.89 512.89,172.52C513.73,173.15 514.44,173.96 515.36,175.28C516.28,176.60 517.23,178.56 518.42,180.43C519.61,182.30 521.15,184.73 522.51,186.51C523.87,188.28 525.23,189.79 526.59,191.11C527.95,192.42 529.31,193.53 530.68,194.42C532.04,195.31 533.40,195.89 534.76,196.44C536.12,196.99 537.31,197.39 538.85,197.73C540.38,198.07 541.27,198.31 543.95,198.47C546.63,198.62 553.10,198.62 554.93,198.65L554.93,198.65L444.30,198.65Z" fill="#03031B" fill-opacity="0.5" stroke="none"/>
<path d="M444.30,198.47C445.62,198.40 450.04,198.28 452.21,198.10C454.38,197.91 455.62,197.67 457.32,197.36C459.02,197.06 460.89,196.83 462.43,196.26C463.96,195.69 465.32,194.77 466.51,193.94C467.70,193.11 468.55,192.28 469.57,191.29C470.60,190.30 471.79,188.87 472.64,187.98C473.49,187.09 474.00,186.87 474.68,185.95C475.36,185.03 476.04,183.87 476.72,182.46C477.40,181.05 477.93,179.73 478.77,177.49C479.60,175.25 480.74,171.69 481.74,169.03C482.75,166.36 483.79,163.69 484.81,161.48C485.83,159.27 486.94,157.07 487.87,155.78C488.81,154.49 489.74,154.14 490.42,153.75C491.11,153.37 491.36,153.39 491.96,153.48C492.55,153.57 493.23,153.49 494.00,154.31C494.76,155.12 495.70,156.67 496.55,158.35C497.40,160.04 498.25,162.65 499.10,164.43C499.96,166.20 500.81,167.83 501.66,169.03C502.51,170.22 503.27,171.11 504.21,171.60C505.15,172.09 506.25,171.99 507.27,171.97C508.30,171.95 509.40,171.42 510.34,171.51C511.27,171.60 512.05,171.89 512.89,172.52C513.73,173.15 514.44,173.96 515.36,175.28C516.28,176.60 517.23,178.56 518.42,180.43C519.61,182.30 521.15,184.73 522.51,186.51C523.87,188.28 525.23,189.79 526.59,191.11C527.95,192.42 529.31,193.53 530.68,194.42C532.04,195.31 533.40,195.89 534.76,196.44C536.12,196.99 537.31,197.39 538.85,197.73C540.38,198.07 541.27,198.31 543.95,198.47C546.63,198.62 553.10,198.62 554.93,198.65" fill="none" stroke="#000" stroke-width="1.4" stroke-linejoin="round"/>
<path d="M444.30,198.28C444.94,198.16 446.81,197.94 448.13,197.55C449.45,197.15 450.85,196.53 452.21,195.89C453.58,195.25 454.94,194.33 456.30,193.68C457.66,193.04 459.02,192.39 460.38,192.03C461.75,191.66 463.11,191.57 464.47,191.47C465.83,191.38 467.19,191.57 468.55,191.47C469.92,191.38 471.28,191.21 472.64,190.92C474.00,190.63 475.45,190.35 476.72,189.73C478.00,189.10 479.19,188.27 480.30,187.15C481.40,186.03 482.34,184.62 483.36,183.01C484.38,181.40 485.33,179.51 486.42,177.49C487.52,175.47 488.82,173.09 489.91,170.87C491.01,168.64 492.04,166.04 492.98,164.15C493.91,162.26 494.76,160.61 495.53,159.55C496.30,158.49 496.98,158.12 497.57,157.80C498.17,157.48 498.51,157.40 499.10,157.62C499.70,157.83 500.38,158.26 501.15,159.09C501.91,159.92 502.76,161.30 503.70,162.59C504.64,163.87 505.74,165.62 506.76,166.82C507.78,168.01 508.81,168.93 509.83,169.76C510.85,170.59 511.78,171.10 512.89,171.79C514.00,172.48 515.37,173.29 516.46,173.90C517.56,174.52 518.35,174.53 519.44,175.47C520.54,176.40 521.83,177.98 523.02,179.51C524.21,181.05 525.40,182.96 526.59,184.67C527.78,186.37 528.97,188.19 530.17,189.73C531.36,191.26 532.55,192.72 533.74,193.87C534.93,195.02 536.12,195.95 537.31,196.63C538.51,197.30 539.44,197.59 540.89,197.91C542.34,198.24 543.65,198.44 545.99,198.56C548.33,198.68 553.44,198.63 554.93,198.65L554.93,198.65L444.30,198.65Z" fill="#B31155" fill-opacity="0.5" stroke="none"/>
<path d="M444.30,198.28C444.94,198.16 446.81,197.94 448.13,197.55C449.45,197.15 450.85,196.53 452.21,195.89C453.58,195.25 454.94,194.33 456.30,193.68C457.66,193.04 459.02,192.39 460.38,192.03C461.75,191.66 463.11,191.57 464.47,191.47C465.83,191.38 467.19,191.57 468.55,191.47C469.92,191.38 471.28,191.21 472.64,190.92C474.00,190.63 475.45,190.35 476.72,189.73C478.00,189.10 479.19,188.27 480.30,187.15C481.40,186.03 482.34,184.62 483.36,183.01C484.38,181.40 485.33,179.51 486.42,177.49C487.52,175.47 488.82,173.09 489.91,170.87C491.01,168.64 492.04,166.04 492.98,164.15C493.91,162.26 494.76,160.61 495.53,159.55C496.30,158.49 496.98,158.12 497.57,157.80C498.17,157.48 498.51,157.40 499.10,157.62C499.70,157.83 500.38,158.26 501.15,159.09C501.91,159.92 502.76,161.30 503.70,162.59C504.64,163.87 505.74,165.62 506.76,166.82C507.78,168.01 508.81,168.93 509.83,169.76C510.85,170.59 511.78,171.10 512.89,171.79C514.00,172.48 515.37,173.29 516.46,173.90C517.56,174.52 518.35,174.53 519.44,175.47C520.54,176.40 521.83,177.98 523.02,179.51C524.21,181.05 525.40,182.96 526.59,184.67C527.78,186.37 528.97,188.19 530.17,189.73C531.36,191.26 532.55,192.72 533.74,193.87C534.93,195.02 536.12,195.95 537.31,196.63C538.51,197.30 539.44,197.59 540.89,197.91C542.34,198.24 543.65,198.44 545.99,198.56C548.33,198.68 553.44,198.63 554.93,198.65" fill="none" stroke="#000" stroke-width="1.4" stroke-linejoin="round"/>
<path d="M497.91,114.00V202.30" stroke="#03031B" stroke-width="1.85" stroke-opacity="0.8" stroke-dasharray="5.3 5.18" fill="none"/>
<path d="M500.47,114.00V202.30" stroke="#B31155" stroke-width="1.85" stroke-opacity="0.8" stroke-dasharray="5.3 5.18" fill="none"/>
<rect x="438.8" y="114.1" width="120.90" height="88.20" fill="none" stroke="#858585" stroke-width="1.1" stroke-linejoin="round"/>
</g>
<g>
<rect x="53.6" y="209.6" width="120.90" height="88.30" fill="#fff"/>
<path d="M80.38,209.6V297.90M122.92,209.6V297.90M165.47,209.6V297.90M53.6,285.00H174.50M53.6,266.60H174.50M53.6,248.20H174.50M53.6,229.80H174.50M53.6,211.40H174.50" stroke="#ebebeb" stroke-width="0.55" fill="none"/>
<path d="M59.10,209.6V297.90M101.65,209.6V297.90M144.20,209.6V297.90M53.6,294.20H174.50M53.6,275.80H174.50M53.6,257.40H174.50M53.6,239.00H174.50M53.6,220.60H174.50" stroke="#ebebeb" stroke-width="1.05" fill="none"/>
<path d="M59.10,294.20C63.07,294.20 78.25,294.26 82.93,294.20C87.61,294.14 85.95,294.20 87.18,293.83C88.42,293.46 89.47,292.76 90.33,291.99C91.20,291.23 91.52,290.49 92.37,289.23C93.23,287.97 94.42,286.35 95.44,284.45C96.46,282.55 97.57,279.79 98.50,277.82C99.44,275.86 100.20,274.30 101.05,272.67C101.91,271.05 102.73,269.27 103.61,268.07C104.49,266.88 105.45,266.78 106.33,265.50C107.21,264.21 108.03,261.97 108.88,260.34C109.73,258.72 110.59,256.89 111.44,255.74C112.29,254.59 113.22,253.90 113.99,253.44C114.76,252.98 115.35,252.97 116.03,252.98C116.71,253.00 117.22,252.89 118.07,253.54C118.93,254.18 120.03,255.62 121.14,256.85C122.24,258.07 123.44,259.88 124.71,260.90C125.99,261.91 127.44,262.37 128.80,262.92C130.16,263.47 131.86,263.81 132.88,264.21C133.90,264.61 134.07,264.67 134.92,265.31C135.78,265.96 136.95,266.92 137.99,268.07C139.02,269.22 140.12,270.68 141.14,272.21C142.16,273.75 143.11,275.57 144.11,277.27C145.12,278.97 146.14,280.80 147.18,282.42C148.21,284.05 149.29,285.67 150.33,287.02C151.36,288.37 152.38,289.55 153.39,290.52C154.40,291.49 155.26,292.27 156.37,292.82C157.48,293.37 158.75,293.60 160.03,293.83C161.31,294.06 162.41,294.14 164.03,294.20C165.65,294.26 168.78,294.20 169.73,294.20L169.73,294.20L59.10,294.20Z" fill="#03031B" fill-opacity="0.5" stroke="none"/>
<path d="M59.10,294.20C63.07,294.20 78.25,294.26 82.93,294.20C87.61,294.14 85.95,294.20 87.18,293.83C88.42,293.46 89.47,292.76 90.33,291.99C91.20,291.23 91.52,290.49 92.37,289.23C93.23,287.97 94.42,286.35 95.44,284.45C96.46,282.55 97.57,279.79 98.50,277.82C99.44,275.86 100.20,274.30 101.05,272.67C101.91,271.05 102.73,269.27 103.61,268.07C104.49,266.88 105.45,266.78 106.33,265.50C107.21,264.21 108.03,261.97 108.88,260.34C109.73,258.72 110.59,256.89 111.44,255.74C112.29,254.59 113.22,253.90 113.99,253.44C114.76,252.98 115.35,252.97 116.03,252.98C116.71,253.00 117.22,252.89 118.07,253.54C118.93,254.18 120.03,255.62 121.14,256.85C122.24,258.07 123.44,259.88 124.71,260.90C125.99,261.91 127.44,262.37 128.80,262.92C130.16,263.47 131.86,263.81 132.88,264.21C133.90,264.61 134.07,264.67 134.92,265.31C135.78,265.96 136.95,266.92 137.99,268.07C139.02,269.22 140.12,270.68 141.14,272.21C142.16,273.75 143.11,275.57 144.11,277.27C145.12,278.97 146.14,280.80 147.18,282.42C148.21,284.05 149.29,285.67 150.33,287.02C151.36,288.37 152.38,289.55 153.39,290.52C154.40,291.49 155.26,292.27 156.37,292.82C157.48,293.37 158.75,293.60 160.03,293.83C161.31,294.06 162.41,294.14 164.03,294.20C165.65,294.26 168.78,294.20 169.73,294.20" fill="none" stroke="#000" stroke-width="1.4" stroke-linejoin="round"/>
<path d="M59.10,294.20C62.77,294.20 76.63,294.38 81.14,294.20C85.65,294.02 84.63,293.77 86.16,293.10C87.69,292.42 89.13,291.41 90.33,290.15C91.54,288.89 92.37,287.36 93.40,285.55C94.42,283.74 95.44,281.35 96.46,279.30C97.48,277.24 98.50,274.91 99.52,273.22C100.54,271.54 101.45,270.45 102.59,269.18C103.72,267.90 105.20,266.45 106.33,265.59C107.47,264.73 108.39,264.50 109.39,264.02C110.40,263.55 111.35,263.43 112.37,262.74C113.39,262.05 114.57,261.29 115.52,259.88C116.47,258.47 117.31,255.77 118.07,254.27C118.84,252.77 119.35,251.60 120.12,250.87C120.88,250.13 121.73,249.89 122.67,249.86C123.61,249.83 124.63,250.01 125.73,250.68C126.84,251.36 128.20,252.54 129.31,253.90C130.41,255.27 131.52,257.37 132.37,258.87C133.22,260.37 133.79,261.54 134.41,262.92C135.04,264.30 135.52,265.62 136.12,267.15C136.71,268.69 137.42,270.56 137.99,272.12C138.56,273.68 138.92,274.79 139.52,276.54C140.12,278.28 140.80,280.69 141.56,282.61C142.33,284.52 143.26,286.56 144.11,288.04C144.97,289.51 145.72,290.55 146.67,291.44C147.62,292.33 148.70,292.93 149.82,293.37C150.94,293.82 150.07,293.97 153.39,294.11C156.71,294.25 167.01,294.18 169.73,294.20L169.73,294.20L59.10,294.20Z" fill="#B31155" fill-opacity="0.5" stroke="none"/>
<path d="M59.10,294.20C62.77,294.20 76.63,294.38 81.14,294.20C85.65,294.02 84.63,293.77 86.16,293.10C87.69,292.42 89.13,291.41 90.33,290.15C91.54,288.89 92.37,287.36 93.40,285.55C94.42,283.74 95.44,281.35 96.46,279.30C97.48,277.24 98.50,274.91 99.52,273.22C100.54,271.54 101.45,270.45 102.59,269.18C103.72,267.90 105.20,266.45 106.33,265.59C107.47,264.73 108.39,264.50 109.39,264.02C110.40,263.55 111.35,263.43 112.37,262.74C113.39,262.05 114.57,261.29 115.52,259.88C116.47,258.47 117.31,255.77 118.07,254.27C118.84,252.77 119.35,251.60 120.12,250.87C120.88,250.13 121.73,249.89 122.67,249.86C123.61,249.83 124.63,250.01 125.73,250.68C126.84,251.36 128.20,252.54 129.31,253.90C130.41,255.27 131.52,257.37 132.37,258.87C133.22,260.37 133.79,261.54 134.41,262.92C135.04,264.30 135.52,265.62 136.12,267.15C136.71,268.69 137.42,270.56 137.99,272.12C138.56,273.68 138.92,274.79 139.52,276.54C140.12,278.28 140.80,280.69 141.56,282.61C142.33,284.52 143.26,286.56 144.11,288.04C144.97,289.51 145.72,290.55 146.67,291.44C147.62,292.33 148.70,292.93 149.82,293.37C150.94,293.82 150.07,293.97 153.39,294.11C156.71,294.25 167.01,294.18 169.73,294.20" fill="none" stroke="#000" stroke-width="1.4" stroke-linejoin="round"/>
<path d="M122.33,209.50V297.90" stroke="#03031B" stroke-width="1.85" stroke-opacity="0.8" stroke-dasharray="5.3 5.18" fill="none"/>
<path d="M119.35,209.50V297.90" stroke="#B31155" stroke-width="1.85" stroke-opacity="0.8" stroke-dasharray="5.3 5.18" fill="none"/>
<rect x="53.6" y="209.6" width="120.90" height="88.30" fill="none" stroke="#858585" stroke-width="1.1" stroke-linejoin="round"/>
</g>
<g>
<rect x="182.4" y="209.6" width="120.90" height="88.30" fill="#fff"/>
<path d="M208.78,209.6V297.90M251.32,209.6V297.90M293.88,209.6V297.90M182.4,285.00H303.30M182.4,266.60H303.30M182.4,248.20H303.30M182.4,229.80H303.30M182.4,211.40H303.30" stroke="#ebebeb" stroke-width="0.55" fill="none"/>
<path d="M187.50,209.6V297.90M230.05,209.6V297.90M272.60,209.6V297.90M182.4,294.20H303.30M182.4,275.80H303.30M182.4,257.40H303.30M182.4,239.00H303.30M182.4,220.60H303.30" stroke="#ebebeb" stroke-width="1.05" fill="none"/>
<path d="M187.50,294.20C188.49,294.20 192.01,294.23 193.46,294.20C194.90,294.17 195.05,294.28 196.18,294.02C197.31,293.76 199.06,293.33 200.26,292.64C201.47,291.95 202.39,291.33 203.41,289.88C204.43,288.42 205.46,286.07 206.39,283.90C207.33,281.72 208.18,279.27 209.03,276.81C209.88,274.36 210.79,271.37 211.50,269.18C212.21,266.98 212.48,265.86 213.29,263.66C214.09,261.45 215.16,258.47 216.35,255.93C217.54,253.38 219.16,250.59 220.43,248.38C221.71,246.18 222.90,244.12 224.01,242.68C225.11,241.24 226.18,240.41 227.07,239.74C227.97,239.06 228.60,238.63 229.37,238.63C230.14,238.63 230.86,238.97 231.67,239.74C232.48,240.50 233.37,241.70 234.22,243.23C235.07,244.77 235.92,246.73 236.77,248.94C237.62,251.14 238.63,254.21 239.33,256.48C240.02,258.75 240.30,260.07 240.94,262.55C241.58,265.04 242.36,268.41 243.16,271.38C243.95,274.36 244.86,277.79 245.71,280.40C246.56,283.01 247.33,285.15 248.26,287.02C249.20,288.89 250.22,290.61 251.32,291.62C252.43,292.64 253.71,292.88 254.90,293.10C256.09,293.31 257.20,293.25 258.47,292.91C259.75,292.57 261.28,291.65 262.56,291.07C263.83,290.49 265.11,289.78 266.13,289.42C267.15,289.05 267.75,288.83 268.69,288.86C269.62,288.89 270.64,289.14 271.75,289.60C272.86,290.06 274.13,291.00 275.32,291.62C276.51,292.25 277.62,292.94 278.90,293.35C280.17,293.77 279.78,293.97 282.98,294.11C286.19,294.25 295.61,294.18 298.13,294.20L298.13,294.20L187.50,294.20Z" fill="#03031B" fill-opacity="0.5" stroke="none"/>
<path d="M187.50,294.20C188.49,294.20 192.01,294.23 193.46,294.20C194.90,294.17 195.05,294.28 196.18,294.02C197.31,293.76 199.06,293.33 200.26,292.64C201.47,291.95 202.39,291.33 203.41,289.88C204.43,288.42 205.46,286.07 206.39,283.90C207.33,281.72 208.18,279.27 209.03,276.81C209.88,274.36 210.79,271.37 211.50,269.18C212.21,266.98 212.48,265.86 213.29,263.66C214.09,261.45 215.16,258.47 216.35,255.93C217.54,253.38 219.16,250.59 220.43,248.38C221.71,246.18 222.90,244.12 224.01,242.68C225.11,241.24 226.18,240.41 227.07,239.74C227.97,239.06 228.60,238.63 229.37,238.63C230.14,238.63 230.86,238.97 231.67,239.74C232.48,240.50 233.37,241.70 234.22,243.23C235.07,244.77 235.92,246.73 236.77,248.94C237.62,251.14 238.63,254.21 239.33,256.48C240.02,258.75 240.30,260.07 240.94,262.55C241.58,265.04 242.36,268.41 243.16,271.38C243.95,274.36 244.86,277.79 245.71,280.40C246.56,283.01 247.33,285.15 248.26,287.02C249.20,288.89 250.22,290.61 251.32,291.62C252.43,292.64 253.71,292.88 254.90,293.10C256.09,293.31 257.20,293.25 258.47,292.91C259.75,292.57 261.28,291.65 262.56,291.07C263.83,290.49 265.11,289.78 266.13,289.42C267.15,289.05 267.75,288.83 268.69,288.86C269.62,288.89 270.64,289.14 271.75,289.60C272.86,290.06 274.13,291.00 275.32,291.62C276.51,292.25 277.62,292.94 278.90,293.35C280.17,293.77 279.78,293.97 282.98,294.11C286.19,294.25 295.61,294.18 298.13,294.20" fill="none" stroke="#000" stroke-width="1.4" stroke-linejoin="round"/>
<path d="M187.50,294.20C188.78,294.20 193.46,294.23 195.16,294.20C196.86,294.17 196.69,294.20 197.71,294.02C198.73,293.83 200.17,293.79 201.29,293.10C202.41,292.41 203.41,291.49 204.43,289.88C205.46,288.27 206.49,285.69 207.41,283.44C208.34,281.18 209.14,278.73 209.97,276.35C210.79,273.98 211.65,271.29 212.35,269.18C213.04,267.06 213.30,265.86 214.14,263.66C214.97,261.45 216.24,258.30 217.37,255.93C218.50,253.55 219.84,251.08 220.94,249.40C222.05,247.71 223.04,246.65 224.01,245.81C224.97,244.96 225.88,244.55 226.73,244.34C227.58,244.12 228.29,244.37 229.11,244.52C229.94,244.67 230.82,244.61 231.67,245.26C232.52,245.90 233.37,247.00 234.22,248.38C235.07,249.76 236.01,251.76 236.77,253.54C237.54,255.31 238.23,257.37 238.82,259.06C239.40,260.74 239.71,261.54 240.26,263.66C240.82,265.77 241.40,268.96 242.13,271.75C242.87,274.54 243.84,277.85 244.69,280.40C245.54,282.95 246.30,285.09 247.24,287.02C248.18,288.96 249.20,290.89 250.30,291.99C251.41,293.10 252.52,293.40 253.88,293.65C255.24,293.89 257.03,293.77 258.47,293.46C259.92,293.16 261.28,292.36 262.56,291.81C263.83,291.26 265.08,290.52 266.13,290.15C267.18,289.78 267.92,289.57 268.86,289.60C269.79,289.63 270.67,289.88 271.75,290.34C272.83,290.80 274.13,291.78 275.32,292.36C276.51,292.94 277.79,293.53 278.90,293.83C280.00,294.14 278.76,294.14 281.96,294.20C285.17,294.26 295.44,294.20 298.13,294.20L298.13,294.20L187.50,294.20Z" fill="#B31155" fill-opacity="0.5" stroke="none"/>
<path d="M187.50,294.20C188.78,294.20 193.46,294.23 195.16,294.20C196.86,294.17 196.69,294.20 197.71,294.02C198.73,293.83 200.17,293.79 201.29,293.10C202.41,292.41 203.41,291.49 204.43,289.88C205.46,288.27 206.49,285.69 207.41,283.44C208.34,281.18 209.14,278.73 209.97,276.35C210.79,273.98 211.65,271.29 212.35,269.18C213.04,267.06 213.30,265.86 214.14,263.66C214.97,261.45 216.24,258.30 217.37,255.93C218.50,253.55 219.84,251.08 220.94,249.40C222.05,247.71 223.04,246.65 224.01,245.81C224.97,244.96 225.88,244.55 226.73,244.34C227.58,244.12 228.29,244.37 229.11,244.52C229.94,244.67 230.82,244.61 231.67,245.26C232.52,245.90 233.37,247.00 234.22,248.38C235.07,249.76 236.01,251.76 236.77,253.54C237.54,255.31 238.23,257.37 238.82,259.06C239.40,260.74 239.71,261.54 240.26,263.66C240.82,265.77 241.40,268.96 242.13,271.75C242.87,274.54 243.84,277.85 244.69,280.40C245.54,282.95 246.30,285.09 247.24,287.02C248.18,288.96 249.20,290.89 250.30,291.99C251.41,293.10 252.52,293.40 253.88,293.65C255.24,293.89 257.03,293.77 258.47,293.46C259.92,293.16 261.28,292.36 262.56,291.81C263.83,291.26 265.08,290.52 266.13,290.15C267.18,289.78 267.92,289.57 268.86,289.60C269.79,289.63 270.67,289.88 271.75,290.34C272.83,290.80 274.13,291.78 275.32,292.36C276.51,292.94 277.79,293.53 278.90,293.83C280.00,294.14 278.76,294.14 281.96,294.20C285.17,294.26 295.44,294.20 298.13,294.20" fill="none" stroke="#000" stroke-width="1.4" stroke-linejoin="round"/>
<path d="M229.79,209.50V297.90" stroke="#03031B" stroke-width="1.85" stroke-opacity="0.8" stroke-dasharray="5.3 5.18" fill="none"/>
<path d="M229.20,209.50V297.90" stroke="#B31155" stroke-width="1.85" stroke-opacity="0.8" stroke-dasharray="5.3 5.18" fill="none"/>
<rect x="182.4" y="209.6" width="120.90" height="88.30" fill="none" stroke="#858585" stroke-width="1.1" stroke-linejoin="round"/>
</g>
<g>
<rect x="310.6" y="209.6" width="120.80" height="88.30" fill="#fff"/>
<path d="M337.22,209.6V297.90M379.77,209.6V297.90M422.32,209.6V297.90M310.6,285.00H431.40M310.6,266.60H431.40M310.6,248.20H431.40M310.6,229.80H431.40M310.6,211.40H431.40" stroke="#ebebeb" stroke-width="0.55" fill="none"/>
<path d="M315.95,209.6V297.90M358.50,209.6V297.90M401.05,209.6V297.90M310.6,294.20H431.40M310.6,275.80H431.40M310.6,257.40H431.40M310.6,239.00H431.40M310.6,220.60H431.40" stroke="#ebebeb" stroke-width="1.05" fill="none"/>
<path d="M315.95,294.20C318.08,294.20 325.82,294.22 328.71,294.20C331.61,294.18 331.85,294.32 333.31,294.11C334.77,293.89 336.10,293.54 337.48,292.91C338.86,292.28 340.20,291.32 341.57,290.34C342.93,289.35 344.29,288.17 345.65,287.02C347.01,285.87 348.54,284.72 349.73,283.44C350.93,282.15 351.86,280.91 352.80,279.30C353.73,277.69 354.63,275.46 355.35,273.78C356.07,272.09 356.57,270.99 357.14,269.18C357.71,267.37 358.22,265.04 358.76,262.92C359.29,260.80 359.68,259.03 360.37,256.48C361.07,253.93 362.16,249.99 362.93,247.65C363.69,245.30 364.24,243.69 364.97,242.40C365.69,241.12 366.56,240.18 367.27,239.92C367.97,239.66 368.46,239.55 369.22,240.84C369.99,242.13 370.92,245.10 371.86,247.65C372.80,250.19 374.02,254.24 374.84,256.11C375.66,257.98 376.04,258.01 376.80,258.87C377.55,259.73 378.70,260.65 379.35,261.26C380.00,261.88 380.06,261.98 380.71,262.55C381.36,263.12 382.40,263.81 383.26,264.67C384.13,265.53 385.02,266.43 385.90,267.70C386.78,268.98 387.55,270.56 388.54,272.30C389.53,274.05 390.75,276.20 391.86,278.19C392.97,280.19 394.09,282.49 395.18,284.26C396.27,286.04 397.21,287.55 398.41,288.86C399.62,290.18 400.98,291.38 402.41,292.18C403.84,292.97 405.35,293.31 407.01,293.65C408.67,293.99 409.11,294.11 412.37,294.20C415.63,294.29 424.21,294.20 426.58,294.20L426.58,294.20L315.95,294.20Z" fill="#03031B" fill-opacity="0.5" stroke="none"/>
<path d="M315.95,294.20C318.08,294.20 325.82,294.22 328.71,294.20C331.61,294.18 331.85,294.32 333.31,294.11C334.77,293.89 336.10,293.54 337.48,292.91C338.86,292.28 340.20,291.32 341.57,290.34C342.93,289.35 344.29,288.17 345.65,287.02C347.01,285.87 348.54,284.72 349.73,283.44C350.93,282.15 351.86,280.91 352.80,279.30C353.73,277.69 354.63,275.46 355.35,273.78C356.07,272.09 356.57,270.99 357.14,269.18C357.71,267.37 358.22,265.04 358.76,262.92C359.29,260.80 359.68,259.03 360.37,256.48C361.07,253.93 362.16,249.99 362.93,247.65C363.69,245.30 364.24,243.69 364.97,242.40C365.69,241.12 366.56,240.18 367.27,239.92C367.97,239.66 368.46,239.55 369.22,240.84C369.99,242.13 370.92,245.10 371.86,247.65C372.80,250.19 374.02,254.24 374.84,256.11C375.66,257.98 376.04,258.01 376.80,258.87C377.55,259.73 378.70,260.65 379.35,261.26C380.00,261.88 380.06,261.98 380.71,262.55C381.36,263.12 382.40,263.81 383.26,264.67C384.13,265.53 385.02,266.43 385.90,267.70C386.78,268.98 387.55,270.56 388.54,272.30C389.53,274.05 390.75,276.20 391.86,278.19C392.97,280.19 394.09,282.49 395.18,284.26C396.27,286.04 397.21,287.55 398.41,288.86C399.62,290.18 400.98,291.38 402.41,292.18C403.84,292.97 405.35,293.31 407.01,293.65C408.67,293.99 409.11,294.11 412.37,294.20C415.63,294.29 424.21,294.20 426.58,294.20" fill="none" stroke="#000" stroke-width="1.4" stroke-linejoin="round"/>
<path d="M315.95,294.20C320.20,294.20 336.53,294.22 341.48,294.20C346.43,294.18 344.27,294.32 345.65,294.11C347.03,293.89 348.54,293.57 349.73,292.91C350.93,292.25 351.78,291.47 352.80,290.15C353.82,288.83 354.93,286.89 355.86,285.00C356.80,283.11 357.65,280.89 358.41,278.84C359.18,276.78 359.86,274.40 360.46,272.67C361.05,270.94 361.48,270.13 361.99,268.44C362.50,266.75 363.02,264.55 363.52,262.55C364.02,260.56 364.34,258.84 364.97,256.48C365.59,254.12 366.56,250.93 367.27,248.38C367.97,245.84 368.51,242.77 369.22,241.21C369.93,239.64 370.70,238.91 371.52,239.00C372.34,239.09 373.38,240.32 374.16,241.76C374.94,243.20 375.53,245.56 376.20,247.65C376.87,249.73 377.62,252.49 378.16,254.27C378.70,256.05 378.92,256.63 379.43,258.32C379.95,260.01 380.37,262.49 381.22,264.39C382.07,266.29 383.43,268.19 384.54,269.73C385.65,271.26 386.75,272.55 387.86,273.59C388.97,274.63 389.86,275.46 391.18,275.98C392.50,276.51 394.13,276.66 395.77,276.72C397.42,276.78 399.62,276.11 401.05,276.35C402.48,276.60 403.26,277.09 404.37,278.19C405.48,279.30 406.58,281.32 407.69,282.98C408.79,284.63 409.80,286.59 411.01,288.13C412.21,289.66 413.50,291.26 414.92,292.18C416.34,293.10 417.74,293.31 419.52,293.65C421.29,293.99 424.55,294.11 425.56,294.20L425.56,294.20L315.95,294.20Z" fill="#B31155" fill-opacity="0.5" stroke="none"/>
<path d="M315.95,294.20C320.20,294.20 336.53,294.22 341.48,294.20C346.43,294.18 344.27,294.32 345.65,294.11C347.03,293.89 348.54,293.57 349.73,292.91C350.93,292.25 351.78,291.47 352.80,290.15C353.82,288.83 354.93,286.89 355.86,285.00C356.80,283.11 357.65,280.89 358.41,278.84C359.18,276.78 359.86,274.40 360.46,272.67C361.05,270.94 361.48,270.13 361.99,268.44C362.50,266.75 363.02,264.55 363.52,262.55C364.02,260.56 364.34,258.84 364.97,256.48C365.59,254.12 366.56,250.93 367.27,248.38C367.97,245.84 368.51,242.77 369.22,241.21C369.93,239.64 370.70,238.91 371.52,239.00C372.34,239.09 373.38,240.32 374.16,241.76C374.94,243.20 375.53,245.56 376.20,247.65C376.87,249.73 377.62,252.49 378.16,254.27C378.70,256.05 378.92,256.63 379.43,258.32C379.95,260.01 380.37,262.49 381.22,264.39C382.07,266.29 383.43,268.19 384.54,269.73C385.65,271.26 386.75,272.55 387.86,273.59C388.97,274.63 389.86,275.46 391.18,275.98C392.50,276.51 394.13,276.66 395.77,276.72C397.42,276.78 399.62,276.11 401.05,276.35C402.48,276.60 403.26,277.09 404.37,278.19C405.48,279.30 406.58,281.32 407.69,282.98C408.79,284.63 409.80,286.59 411.01,288.13C412.21,289.66 413.50,291.26 414.92,292.18C416.34,293.10 417.74,293.31 419.52,293.65C421.29,293.99 424.55,294.11 425.56,294.20" fill="none" stroke="#000" stroke-width="1.4" stroke-linejoin="round"/>
<path d="M370.84,209.50V297.90" stroke="#03031B" stroke-width="1.85" stroke-opacity="0.8" stroke-dasharray="5.3 5.18" fill="none"/>
<path d="M379.01,209.50V297.90" stroke="#B31155" stroke-width="1.85" stroke-opacity="0.8" stroke-dasharray="5.3 5.18" fill="none"/>
<rect x="310.6" y="209.6" width="120.80" height="88.30" fill="none" stroke="#858585" stroke-width="1.1" stroke-linejoin="round"/>
</g>
<g>
<rect x="438.8" y="209.6" width="120.90" height="88.30" fill="#fff"/>
<path d="M465.57,209.6V297.90M508.12,209.6V297.90M550.67,209.6V297.90M438.8,285.00H559.70M438.8,266.60H559.70M438.8,248.20H559.70M438.8,229.80H559.70M438.8,211.40H559.70" stroke="#ebebeb" stroke-width="0.55" fill="none"/>
<path d="M444.30,209.6V297.90M486.85,209.6V297.90M529.40,209.6V297.90M438.8,294.20H559.70M438.8,275.80H559.70M438.8,257.40H559.70M438.8,239.00H559.70M438.8,220.60H559.70" stroke="#ebebeb" stroke-width="1.05" fill="none"/>
<path d="M444.30,294.20C446.29,294.20 453.15,294.54 456.21,294.20C459.28,293.86 460.81,293.46 462.68,292.18C464.55,290.89 465.84,288.62 467.45,286.47C469.05,284.33 470.68,281.84 472.30,279.30C473.91,276.75 475.76,273.38 477.15,271.20C478.54,269.02 479.50,268.18 480.64,266.23C481.77,264.28 482.85,261.48 483.96,259.52C485.06,257.55 486.16,255.79 487.28,254.46C488.40,253.12 489.54,252.25 490.68,251.51C491.81,250.78 493.18,250.32 494.08,250.04C494.99,249.76 495.36,249.67 496.13,249.86C496.89,250.04 497.83,250.38 498.68,251.14C499.53,251.91 500.47,253.14 501.23,254.46C502.00,255.77 502.58,257.19 503.27,259.06C503.97,260.93 504.68,263.38 505.40,265.68C506.13,267.98 506.71,270.46 507.61,272.86C508.52,275.25 509.77,278.31 510.85,280.03C511.93,281.75 512.75,282.49 514.08,283.16C515.42,283.83 517.24,283.80 518.85,284.08C520.45,284.36 522.10,284.23 523.70,284.82C525.30,285.40 526.86,286.63 528.46,287.58C530.07,288.53 531.70,289.63 533.31,290.52C534.93,291.41 536.29,292.30 538.17,292.91C540.04,293.53 541.75,293.99 544.55,294.20C547.34,294.41 553.20,294.20 554.93,294.20L554.93,294.20L444.30,294.20Z" fill="#03031B" fill-opacity="0.5" stroke="none"/>
<path d="M444.30,294.20C446.29,294.20 453.15,294.54 456.21,294.20C459.28,293.86 460.81,293.46 462.68,292.18C464.55,290.89 465.84,288.62 467.45,286.47C469.05,284.33 470.68,281.84 472.30,279.30C473.91,276.75 475.76,273.38 477.15,271.20C478.54,269.02 479.50,268.18 480.64,266.23C481.77,264.28 482.85,261.48 483.96,259.52C485.06,257.55 486.16,255.79 487.28,254.46C488.40,253.12 489.54,252.25 490.68,251.51C491.81,250.78 493.18,250.32 494.08,250.04C494.99,249.76 495.36,249.67 496.13,249.86C496.89,250.04 497.83,250.38 498.68,251.14C499.53,251.91 500.47,253.14 501.23,254.46C502.00,255.77 502.58,257.19 503.27,259.06C503.97,260.93 504.68,263.38 505.40,265.68C506.13,267.98 506.71,270.46 507.61,272.86C508.52,275.25 509.77,278.31 510.85,280.03C511.93,281.75 512.75,282.49 514.08,283.16C515.42,283.83 517.24,283.80 518.85,284.08C520.45,284.36 522.10,284.23 523.70,284.82C525.30,285.40 526.86,286.63 528.46,287.58C530.07,288.53 531.70,289.63 533.31,290.52C534.93,291.41 536.29,292.30 538.17,292.91C540.04,293.53 541.75,293.99 544.55,294.20C547.34,294.41 553.20,294.20 554.93,294.20" fill="none" stroke="#000" stroke-width="1.4" stroke-linejoin="round"/>
<path d="M444.30,294.20C448.43,294.20 464.27,294.69 469.06,294.20C473.86,293.71 471.99,293.22 473.06,291.26C474.14,289.29 474.85,285.61 475.53,282.42C476.21,279.23 476.72,275.06 477.15,272.12C477.57,269.18 477.77,267.83 478.08,264.76C478.40,261.69 478.69,257.71 479.02,253.72C479.35,249.73 479.63,244.67 480.04,240.84C480.45,237.01 481.03,233.69 481.49,230.72C481.94,227.75 482.38,224.83 482.77,222.99C483.15,221.15 483.43,219.68 483.79,219.68C484.14,219.68 484.47,221.06 484.89,222.99C485.32,224.92 485.97,228.60 486.34,231.27C486.71,233.94 486.82,236.79 487.11,239.00C487.39,241.21 487.73,242.50 488.04,244.52C488.35,246.54 488.65,249.06 488.98,251.14C489.30,253.23 489.69,255.71 490.00,257.03C490.31,258.35 490.55,259.06 490.85,259.06C491.15,259.06 491.46,258.35 491.79,257.03C492.11,255.71 492.47,253.23 492.81,251.14C493.15,249.06 493.50,246.54 493.83,244.52C494.15,242.50 494.42,241.21 494.76,239.00C495.10,236.79 495.49,233.88 495.87,231.27C496.25,228.67 496.69,225.29 497.06,223.36C497.43,221.43 497.73,219.68 498.08,219.68C498.44,219.68 498.79,221.52 499.19,223.36C499.59,225.20 500.08,228.11 500.47,230.72C500.85,233.33 501.15,235.93 501.49,239.00C501.83,242.07 502.15,245.65 502.51,249.12C502.86,252.59 503.20,256.11 503.61,259.79C504.03,263.47 504.51,267.46 504.98,271.20C505.44,274.94 505.93,279.27 506.42,282.24C506.92,285.21 507.39,287.30 507.95,289.05C508.52,290.80 509.08,291.87 509.83,292.73C510.58,293.59 504.95,293.95 512.47,294.20C519.98,294.45 547.85,294.20 554.93,294.20L554.93,294.20L444.30,294.20Z" fill="#B31155" fill-opacity="0.5" stroke="none"/>
<path d="M444.30,294.20C448.43,294.20 464.27,294.69 469.06,294.20C473.86,293.71 471.99,293.22 473.06,291.26C474.14,289.29 474.85,285.61 475.53,282.42C476.21,279.23 476.72,275.06 477.15,272.12C477.57,269.18 477.77,267.83 478.08,264.76C478.40,261.69 478.69,257.71 479.02,253.72C479.35,249.73 479.63,244.67 480.04,240.84C480.45,237.01 481.03,233.69 481.49,230.72C481.94,227.75 482.38,224.83 482.77,222.99C483.15,221.15 483.43,219.68 483.79,219.68C484.14,219.68 484.47,221.06 484.89,222.99C485.32,224.92 485.97,228.60 486.34,231.27C486.71,233.94 486.82,236.79 487.11,239.00C487.39,241.21 487.73,242.50 488.04,244.52C488.35,246.54 488.65,249.06 488.98,251.14C489.30,253.23 489.69,255.71 490.00,257.03C490.31,258.35 490.55,259.06 490.85,259.06C491.15,259.06 491.46,258.35 491.79,257.03C492.11,255.71 492.47,253.23 492.81,251.14C493.15,249.06 493.50,246.54 493.83,244.52C494.15,242.50 494.42,241.21 494.76,239.00C495.10,236.79 495.49,233.88 495.87,231.27C496.25,228.67 496.69,225.29 497.06,223.36C497.43,221.43 497.73,219.68 498.08,219.68C498.44,219.68 498.79,221.52 499.19,223.36C499.59,225.20 500.08,228.11 500.47,230.72C500.85,233.33 501.15,235.93 501.49,239.00C501.83,242.07 502.15,245.65 502.51,249.12C502.86,252.59 503.20,256.11 503.61,259.79C504.03,263.47 504.51,267.46 504.98,271.20C505.44,274.94 505.93,279.27 506.42,282.24C506.92,285.21 507.39,287.30 507.95,289.05C508.52,290.80 509.08,291.87 509.83,292.73C510.58,293.59 504.95,293.95 512.47,294.20C519.98,294.45 547.85,294.20 554.93,294.20" fill="none" stroke="#000" stroke-width="1.4" stroke-linejoin="round"/>
<path d="M495.87,209.50V297.90" stroke="#03031B" stroke-width="1.85" stroke-opacity="0.8" stroke-dasharray="5.3 5.18" fill="none"/>
<path d="M490.93,209.50V297.90" stroke="#B31155" stroke-width="1.85" stroke-opacity="0.8" stroke-dasharray="5.3 5.18" fill="none"/>
<rect x="438.8" y="209.6" width="120.90" height="88.30" fill="none" stroke="#858585" stroke-width="1.1" stroke-linejoin="round"/>
</g>
<text x="114.45" y="11.1" font-size="14.55" text-anchor="middle" fill="#1a1a1a">PP Fragment</text>
<text x="243.25" y="11.1" font-size="14.55" text-anchor="middle" fill="#1a1a1a">PE Film</text>
<text x="371.40" y="11.1" font-size="14.55" text-anchor="middle" fill="#1a1a1a">PA Fiber</text>
<text x="499.65" y="11.1" font-size="14.55" text-anchor="middle" fill="#1a1a1a">PET Fiber</text>
<text transform="translate(567.1,62.80) rotate(90)" font-size="14.55" text-anchor="middle" fill="#1a1a1a">Protocol #25</text>
<text transform="translate(567.1,158.50) rotate(90)" font-size="14.55" text-anchor="middle" fill="#1a1a1a">Protocol #26</text>
<text transform="translate(567.1,254.05) rotate(90)" font-size="14.55" text-anchor="middle" fill="#1a1a1a">Protocol #27</text>
<text transform="translate(47.2,108.10) scale(1,1.07)" font-size="12.3" text-anchor="end" fill="#4d4d4d">0.000</text>
<text transform="translate(47.2,89.70) scale(1,1.07)" font-size="12.3" text-anchor="end" fill="#4d4d4d">0.001</text>
<text transform="translate(47.2,71.30) scale(1,1.07)" font-size="12.3" text-anchor="end" fill="#4d4d4d">0.002</text>
<text transform="translate(47.2,52.90) scale(1,1.07)" font-size="12.3" text-anchor="end" fill="#4d4d4d">0.003</text>
<text transform="translate(47.2,34.50) scale(1,1.07)" font-size="12.3" text-anchor="end" fill="#4d4d4d">0.004</text>
<path d="M49.8,103.10H53.4M49.8,84.70H53.4M49.8,66.30H53.4M49.8,47.90H53.4M49.8,29.50H53.4" stroke="#333" stroke-width="1.3"/>
<text transform="translate(47.2,203.65) scale(1,1.07)" font-size="12.3" text-anchor="end" fill="#4d4d4d">0.000</text>
<text transform="translate(47.2,185.25) scale(1,1.07)" font-size="12.3" text-anchor="end" fill="#4d4d4d">0.001</text>
<text transform="translate(47.2,166.85) scale(1,1.07)" font-size="12.3" text-anchor="end" fill="#4d4d4d">0.002</text>
<text transform="translate(47.2,148.45) scale(1,1.07)" font-size="12.3" text-anchor="end" fill="#4d4d4d">0.003</text>
<text transform="translate(47.2,130.05) scale(1,1.07)" font-size="12.3" text-anchor="end" fill="#4d4d4d">0.004</text>
<path d="M49.8,198.65H53.4M49.8,180.25H53.4M49.8,161.85H53.4M49.8,143.45H53.4M49.8,125.05H53.4" stroke="#333" stroke-width="1.3"/>
<text transform="translate(47.2,299.20) scale(1,1.07)" font-size="12.3" text-anchor="end" fill="#4d4d4d">0.000</text>
<text transform="translate(47.2,280.80) scale(1,1.07)" font-size="12.3" text-anchor="end" fill="#4d4d4d">0.001</text>
<text transform="translate(47.2,262.40) scale(1,1.07)" font-size="12.3" text-anchor="end" fill="#4d4d4d">0.002</text>
<text transform="translate(47.2,244.00) scale(1,1.07)" font-size="12.3" text-anchor="end" fill="#4d4d4d">0.003</text>
<text transform="translate(47.2,225.60) scale(1,1.07)" font-size="12.3" text-anchor="end" fill="#4d4d4d">0.004</text>
<path d="M49.8,294.20H53.4M49.8,275.80H53.4M49.8,257.40H53.4M49.8,239.00H53.4M49.8,220.60H53.4" stroke="#333" stroke-width="1.3"/>
<text transform="translate(59.10,313.3) scale(1,1.09)" font-size="11.7" text-anchor="middle" fill="#4d4d4d">0</text>
<text transform="translate(101.65,313.3) scale(1,1.09)" font-size="11.7" text-anchor="middle" fill="#4d4d4d">500</text>
<text transform="translate(144.20,313.3) scale(1,1.09)" font-size="11.7" text-anchor="middle" fill="#4d4d4d">1000</text>
<path d="M59.10,297.9V301.59999999999997M101.65,297.9V301.59999999999997M144.20,297.9V301.59999999999997" stroke="#333" stroke-width="1.3"/>
<text transform="translate(187.50,313.3) scale(1,1.09)" font-size="11.7" text-anchor="middle" fill="#4d4d4d">0</text>
<text transform="translate(230.05,313.3) scale(1,1.09)" font-size="11.7" text-anchor="middle" fill="#4d4d4d">500</text>
<text transform="translate(272.60,313.3) scale(1,1.09)" font-size="11.7" text-anchor="middle" fill="#4d4d4d">1000</text>
<path d="M187.50,297.9V301.59999999999997M230.05,297.9V301.59999999999997M272.60,297.9V301.59999999999997" stroke="#333" stroke-width="1.3"/>
<text transform="translate(315.95,313.3) scale(1,1.09)" font-size="11.7" text-anchor="middle" fill="#4d4d4d">0</text>
<text transform="translate(358.50,313.3) scale(1,1.09)" font-size="11.7" text-anchor="middle" fill="#4d4d4d">500</text>
<text transform="translate(401.05,313.3) scale(1,1.09)" font-size="11.7" text-anchor="middle" fill="#4d4d4d">1000</text>
<path d="M315.95,297.9V301.59999999999997M358.50,297.9V301.59999999999997M401.05,297.9V301.59999999999997" stroke="#333" stroke-width="1.3"/>
<text transform="translate(444.30,313.3) scale(1,1.09)" font-size="11.7" text-anchor="middle" fill="#4d4d4d">0</text>
<text transform="translate(486.85,313.3) scale(1,1.09)" font-size="11.7" text-anchor="middle" fill="#4d4d4d">500</text>
<text transform="translate(529.40,313.3) scale(1,1.09)" font-size="11.7" text-anchor="middle" fill="#4d4d4d">1000</text>
<path d="M444.30,297.9V301.59999999999997M486.85,297.9V301.59999999999997M529.40,297.9V301.59999999999997" stroke="#333" stroke-width="1.3"/>
<text x="306.9" y="328.2" font-size="13.3" text-anchor="middle" fill="#000">Particle Length (<tspan font-style="italic">μ</tspan>m)</text>
<text transform="translate(10.4,157.9) rotate(-90)" font-size="13.3" text-anchor="middle" fill="#000">Density</text>
<rect x="605.6" y="147.50" width="19.2" height="19.5" fill="#03031B" fill-opacity="0.5" stroke="#111" stroke-width="1.1"/>
<path d="M615.2,167.40V147.50" stroke="#03031B" stroke-width="1.6" stroke-opacity="0.9" stroke-dasharray="5.3 5.18"/>
<text x="632.6" y="161.40" font-size="10.78" fill="#000">Added</text>
<rect x="605.6" y="168.30" width="19.2" height="19.9" fill="#B31155" fill-opacity="0.5" stroke="#111" stroke-width="1.1"/>
<path d="M615.2,188.60V168.30" stroke="#B31155" stroke-width="1.6" stroke-opacity="0.9" stroke-dasharray="5.3 5.18"/>
<text x="632.6" y="182.60" font-size="10.78" fill="#000">Recovered</text>
</svg>
</body></html>
